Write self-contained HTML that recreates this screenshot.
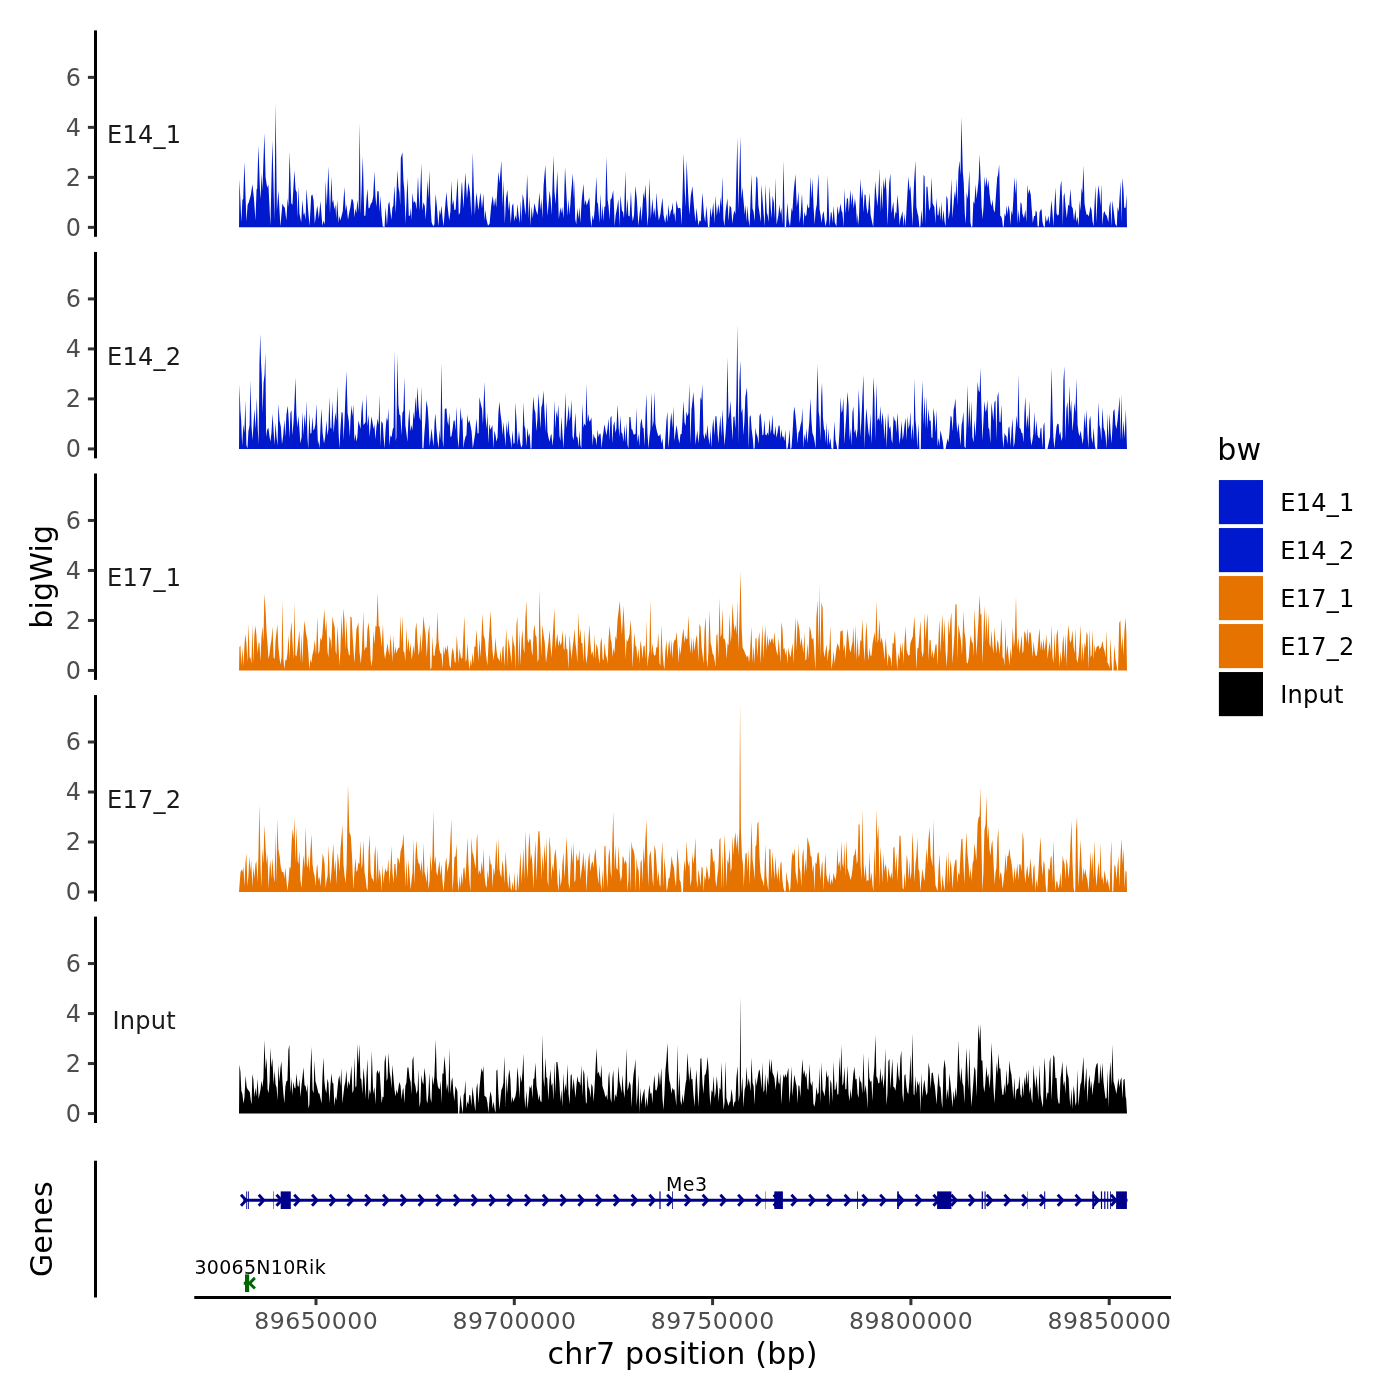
<!DOCTYPE html>
<html lang="en"><head><meta charset="utf-8"><title>chr7 bigWig tracks</title>
<style>html,body{margin:0;padding:0;background:#fff}body{width:1400px;height:1400px;overflow:hidden}svg{display:block}text{font-family:"DejaVu Sans", "Liberation Sans", sans-serif}</style></head><body>
<svg width="1400" height="1400" viewBox="0 0 1400 1400">
<rect width="1400" height="1400" fill="#fff"/>
<g id="panel-E14_1">
<path d="M239 227.36L239 227.36L239.44 179.01L241.36 222.21L242.4 199.81L243.2 199.01L244.4 161.81L246.4 221.41L247.6 205.01L248.8 202.21L250.8 195.01L252.4 184.21L254 199.01L255.44 220.61L256.56 189.41L257.2 188.61L258.4 145.41L260 191.01L260.56 199.01L261.6 173.01L262.4 191.01L264.4 133.01L265.6 177.41L267.2 187.81L268.4 184.61L268.96 195.81L270.4 225.81L272.4 140.61L274.4 220.61L275.6 103.01L276.88 211.01L278.4 190.21L280.4 226.61L282.4 203.41L284 207.01L284.8 207.41L286.4 220.61L287.6 198.21L288.4 207.01L289.6 151.81L291.2 203.01L292.4 205.01L294.4 170.21L295.6 189.41L296.8 192.61L297.6 218.21L298.4 186.21L299.44 213.41L301.2 222.21L302.4 199.81L303.6 215.01L304.4 212.61L305.6 219.81L306.4 188.61L308.4 213.41L309.6 225.81L311.2 195.81L312.4 194.61L313.6 200.61L314.8 223.81L317.2 205.41L318 211.01L318.8 219.01L320.4 201.01L322.4 225.81L323.6 220.61L324.8 224.61L325.6 180.61L326.8 206.21L328.4 166.61L330 213.41L331.44 176.61L332.4 203.01L333.2 199.81L334.4 209.41L335.44 204.61L336.24 219.01L337.2 199.81L338.64 223.01L339.44 215.81L340.4 220.61L341.6 215.81L342.8 211.01L344.4 187.01L345.6 211.01L346.4 204.21L348 219.81L349.2 212.61L350.4 207.01L351.6 199.01L352.8 199.81L353.6 203.81L354.4 217.41L355.44 208.61L356.4 213.41L357.36 199.81L358.64 211.81L359.68 123.01L360.72 214.21L362.8 156.61L364.24 215.81L365.36 215.81L366.4 200.61L367.44 188.61L368.56 208.61L369.6 207.81L370.8 203.81L372 202.21L373.2 196.61L374.4 171.01L375.44 195.81L376.4 207.01L377.36 191.01L378.64 191.41L379.6 212.61L380.4 195.81L381.6 215.01L382.8 226.61L384.56 227.01L385.6 207.01L386.96 225.41L388.24 204.61L389.36 201.41L390.4 211.81L391.44 219.81L392.4 207.81L393.36 205.41L394.4 185.41L395.76 213.41L397.36 169.41L398.4 187.01L399.44 192.61L400.24 205.41L400.8 158.21L402.4 152.21L403.44 180.61L404.4 191.01L405.6 223.81L407.44 177.41L408.8 215.81L410 215.81L410.8 207.81L411.6 220.61L412.4 192.61L413.6 203.01L414.64 201.01L415.6 203.01L416.56 209.41L418 176.21L419.44 211.01L421.36 163.41L422.4 211.01L423.44 202.21L424.8 206.21L425.6 219.81L426.4 207.01L427.44 179.81L428.4 199.01L429.36 170.21L430.4 203.81L431.6 222.21L433.2 226.21L434.4 224.61L435.6 193.81L436.8 205.41L438.4 226.21L439.6 209.41L440.4 215.01L441.44 205.41L442.64 219.01L443.6 226.21L444.8 211.01L446.4 191.81L447.6 206.21L449.2 220.61L450.4 211.81L451.44 180.61L452.4 205.41L453.36 199.81L454.4 210.21L455.6 209.41L457.6 177.81L458.8 215.01L460 212.61L461.6 184.61L462 181.41L463.44 208.61L465.36 172.61L466.96 199.01L468.4 182.21L470 192.61L471.44 216.61L472.8 152.61L473.84 191.01L474.8 215.01L476.4 192.21L478.4 210.21L480.4 192.21L482 208.61L483.44 193.41L484.56 220.61L485.44 209.81L486.4 219.01L488 225.81L489.6 223.81L491.2 205.41L492.8 195.81L494 207.01L495.2 197.41L496.24 207.81L498.4 171.81L499.6 183.01L501.36 160.61L502.64 207.01L503.44 179.81L504.8 223.81L506 198.21L507.44 189.41L508.56 211.01L509.36 200.61L510.8 223.81L512 206.21L513.2 203.01L514.4 221.41L515.44 215.01L516.4 219.81L517.36 203.81L518.4 213.41L519.6 223.01L520.8 200.61L521.6 223.01L522.64 193.81L523.76 199.81L524.8 209.41L525.6 215.01L527.2 174.21L528.56 219.01L529.36 196.61L530.64 225.81L531.6 206.21L532.8 218.21L534.4 203.01L536 210.21L537.6 215.01L539.44 192.21L540.56 210.21L541.36 198.21L542.4 218.21L543.6 185.41L545.36 165.01L546.64 199.01L547.6 215.81L549.6 190.61L550.64 199.01L551.6 215.01L553.44 155.41L554.4 191.01L555.6 203.81L557.36 171.01L558.8 219.01L560.4 207.01L561.2 213.41L562.16 207.01L563.6 218.21L565.04 167.01L566.4 193.41L567.6 215.81L568.56 199.01L569.6 215.01L570.96 195.01L572.8 173.41L574 199.01L574.24 179.01L575.2 219.01L576.24 224.61L577.36 207.81L578.4 219.01L579.44 207.01L580.4 223.01L581.6 201.41L583.44 183.81L584.56 205.41L585.36 199.81L586.8 205.41L588 201.41L589.36 197.41L590.4 217.41L591.44 227.01L592.56 215.01L593.6 220.61L594.64 210.21L596.4 176.61L597.2 202.21L598 203.81L599.44 223.01L600.4 193.41L601.6 220.61L602.64 204.61L603.44 221.41L604.4 207.01L605.36 206.21L606.4 156.61L607.6 199.81L608.56 206.21L609.6 219.81L610.4 199.81L611.6 198.21L613.2 190.21L614 207.01L614.64 226.21L615.6 215.81L617.2 207.01L618.4 199.01L619.6 226.61L620.4 195.01L622 211.01L622.96 211.81L624 218.21L625.36 171.01L626.4 215.81L627.44 198.21L628.4 215.81L629.6 216.61L630.96 191.01L632 215.01L632.8 221.41L634 215.01L635.44 185.81L636.8 199.01L638.4 225.81L639.44 215.01L640.56 205.41L641.6 221.41L643.44 192.21L644.4 199.01L645.36 184.21L646.4 203.01L647.44 226.21L648.4 215.01L649.36 178.21L650.8 219.01L652.4 198.21L653.6 215.01L654.4 207.81L655.44 218.21L656.4 192.21L657.6 209.41L658.8 220.61L660.4 214.21L662.4 197.41L663.6 215.01L665.2 223.01L666.4 213.41L667.44 222.21L668.4 204.61L669.6 217.41L670.8 211.01L671.76 209.41L672.56 202.21L673.6 215.01L674.4 212.61L675.44 222.21L676.4 200.21L678 208.61L679.2 207.81L680.56 208.61L681.6 225.41L682.4 199.01L683.6 153.41L684.8 191.01L685.6 207.01L686.64 160.61L688 191.01L689.36 215.01L690.8 195.81L692.4 186.21L694 207.01L695.44 222.21L696.4 207.81L698.4 225.41L699.6 220.61L700.8 221.41L702.4 192.61L704 215.01L705.2 222.21L706.4 205.81L708 227.01L709.36 227.01L710.4 207.01L711.6 217.41L713.36 202.21L714.4 223.81L715.6 195.41L716.8 215.81L718.4 203.81L719.44 214.21L720.56 197.01L721.36 207.01L722.4 176.21L723.44 219.01L724.4 226.21L725.6 211.01L727.44 198.21L728.56 221.41L729.6 205.41L731.2 207.81L732.4 223.81L733.36 215.01L734.4 210.21L735.44 214.21L737.36 137.41L738.4 210.21L740.4 136.21L741.36 199.01L742.4 187.01L743.44 199.81L744.8 215.01L745.6 204.61L746.64 222.21L747.44 205.41L748.4 219.01L749.6 226.61L751.44 174.21L752.56 208.61L753.6 211.81L754.64 221.41L756.4 176.21L757.36 178.21L758.4 205.41L759.6 213.41L760.8 222.21L761.36 184.21L762.8 203.01L763.76 215.01L764.8 226.21L765.36 184.21L766.8 212.61L767.76 215.81L768.56 222.21L769.6 186.21L770.64 207.01L771.6 218.21L772.56 195.81L773.84 202.21L774.64 219.01L775.44 177.41L776.56 224.61L778.4 215.01L779.44 204.61L780.4 214.21L781.36 207.81L782.4 224.61L783.44 160.61L784.8 227.01L786 227.01L787.44 202.21L788.56 219.81L790 226.61L791.6 207.81L792.4 211.81L793.6 192.61L795.44 174.21L796.8 207.01L797.84 199.01L798.4 191.01L799.6 223.01L800.56 215.01L802 193.41L803.44 226.21L804.4 211.81L805.6 216.61L806.4 215.01L807.44 203.41L808.4 208.61L809.36 207.01L810.4 176.21L811.44 199.01L812.4 178.61L813.6 207.01L814.64 224.61L815.6 211.01L816.8 204.61L818.4 173.41L819.6 209.41L820.56 215.01L821.6 223.01L822.64 214.21L823.6 211.01L824.8 221.41L825.6 226.61L826.8 219.01L827.76 175.01L829.04 215.01L829.6 226.61L830.8 212.21L831.6 212.61L832.56 223.01L833.6 205.81L834.8 222.21L836.4 226.61L837.36 205.81L838.8 215.01L840.4 203.41L841.6 211.01L842.4 212.61L843.6 227.01L844.4 188.61L845.6 213.41L846.96 197.81L848 199.01L848.8 212.61L850.4 189.81L851.6 205.41L852.4 192.61L853.6 208.61L854.96 198.21L856 207.01L857.04 223.81L857.6 213.41L858.64 225.41L860.4 178.61L861.6 199.01L862.4 187.01L863.6 212.61L864.56 194.61L865.6 195.01L866.4 206.21L867.6 214.21L868.4 208.61L869.36 192.61L870.64 215.01L871.6 219.81L873.2 227.01L874.16 207.01L875.2 181.01L876.4 195.81L877.36 206.21L878.4 193.41L879.44 168.21L880.4 212.61L881.36 184.21L882.4 210.21L883.44 179.01L884.4 189.41L885.44 176.61L886.4 191.01L887.6 225.41L889.2 183.01L890.4 173.41L891.44 213.41L893.36 201.41L894.4 219.81L895.6 211.41L896.4 213.41L897.36 194.61L898.64 208.61L899.6 225.41L900.4 219.01L901.6 215.01L902.4 211.01L903.6 226.21L904.56 213.41L905.6 226.61L906.64 207.01L908.4 176.61L909.6 191.01L910.4 185.41L911.6 207.01L912.4 226.61L914 183.81L915.44 160.61L916.4 207.01L917.6 213.41L918.4 216.61L919.44 227.01L920.4 226.21L921.36 209.41L922.64 224.61L923.6 175.01L924.56 176.61L925.6 224.61L926.4 187.01L927.44 186.61L929.2 211.01L930.4 207.01L931.44 177.01L932.56 203.01L933.6 205.41L934.4 207.01L935.44 223.81L936.4 197.81L937.6 215.01L938.4 215.81L939.44 205.81L940.4 220.61L941.36 201.41L942.4 222.21L943.44 209.41L944.56 221.41L945.6 226.61L946.4 195.81L947.6 199.01L948.56 219.81L950 209.41L951.44 178.61L952.4 218.21L954 198.21L954.96 191.01L955.6 199.01L956.4 177.81L957.36 205.41L958.4 171.81L959.44 160.61L960.56 175.01L961.36 117.01L962.8 171.01L963.76 183.01L964.8 213.41L965.84 223.81L966.64 192.21L967.76 199.01L969.36 170.21L970.4 222.21L971.44 227.36L972.4 226.21L973.36 201.41L974.4 203.81L975.6 184.21L976.56 199.01L977.6 189.41L978.64 179.81L979.6 154.21L980.8 183.01L981.6 207.01L982.64 219.01L983.6 205.41L984.56 176.21L985.6 187.01L986.4 176.61L987.44 187.81L988.4 179.81L989.6 194.21L990.8 203.81L991.6 206.21L992.4 199.41L993.6 209.41L994.8 212.61L996 194.21L997.2 177.41L998 175.01L999.2 164.61L1000.24 215.81L1001.2 216.61L1002 219.01L1002.96 227.01L1003.76 226.61L1004.56 213.41L1005.6 216.61L1006.64 205.41L1007.6 215.01L1008.4 205.01L1009.6 211.01L1010.4 225.41L1011.44 210.21L1012.4 215.01L1013.36 199.01L1014.4 177.01L1015.44 194.21L1016.4 177.81L1017.6 223.81L1018.4 209.41L1019.44 223.01L1020.56 202.21L1021.6 203.81L1022.4 213.41L1024 218.21L1025.36 209.41L1026.4 222.21L1027.44 184.21L1028.4 194.21L1029.36 189.01L1030.8 195.01L1031.6 207.01L1032.8 223.01L1034 216.21L1035.2 215.81L1035.76 210.21L1036.8 212.21L1037.6 226.21L1038.8 226.61L1039.6 212.61L1040.8 209.41L1041.6 209.41L1042.4 221.41L1043.6 226.21L1044.8 227.01L1045.6 215.01L1046.64 221.41L1047.44 220.61L1048.4 215.81L1049.6 224.61L1051.44 199.81L1052.56 213.41L1053.36 226.61L1055.44 187.41L1056.56 213.41L1057.84 215.81L1058.8 214.21L1060.4 186.21L1061.36 180.21L1062.4 207.01L1062.8 226.21L1063.6 196.61L1064.4 192.61L1065.6 207.01L1066.8 218.21L1068.24 204.61L1069.2 206.21L1070.4 188.61L1071.6 206.21L1072.8 208.61L1074 220.61L1075.44 209.01L1076.4 222.21L1077.36 216.61L1078.64 225.81L1079.6 200.61L1080.4 211.01L1081.6 187.41L1082.4 193.41L1083.44 165.41L1084.56 203.81L1085.6 210.21L1086.64 215.01L1087.6 214.21L1088.8 216.61L1090.4 206.61L1091.6 210.21L1092.56 221.41L1093.6 226.21L1094.4 207.01L1095.44 185.41L1096.4 223.01L1097.36 199.01L1098.4 185.01L1099.6 194.21L1100.4 206.21L1101.36 184.21L1102.4 225.41L1103.44 213.41L1104.4 211.01L1105.6 214.61L1106.8 215.81L1108.4 222.21L1109.36 207.01L1110.4 201.01L1111.44 226.61L1112.4 200.21L1113.6 210.21L1115.2 223.81L1116.8 226.61L1117.6 207.01L1118.64 211.81L1120.56 181.41L1121.36 222.21L1122.4 177.41L1123.44 189.41L1124.24 207.81L1125.6 207.81L1126.56 194.61L1127 227.36Z" fill="#0019CC"/>
<line x1="95.5" x2="95.5" y1="30.4" y2="236.8" stroke="#000" stroke-width="3"/>
<line x1="87.9" x2="94.5" y1="227.36" y2="227.36" stroke="#333" stroke-width="3"/>
<text x="80.9" y="235.71" font-size="23.9" fill="#4D4D4D" text-anchor="end">0</text>
<line x1="87.9" x2="94.5" y1="177.36" y2="177.36" stroke="#333" stroke-width="3"/>
<text x="80.9" y="185.71" font-size="23.9" fill="#4D4D4D" text-anchor="end">2</text>
<line x1="87.9" x2="94.5" y1="127.36" y2="127.36" stroke="#333" stroke-width="3"/>
<text x="80.9" y="135.71" font-size="23.9" fill="#4D4D4D" text-anchor="end">4</text>
<line x1="87.9" x2="94.5" y1="77.36" y2="77.36" stroke="#333" stroke-width="3"/>
<text x="80.9" y="85.71" font-size="23.9" fill="#4D4D4D" text-anchor="end">6</text>
<text x="144.2" y="143" font-size="24.1" fill="#1A1A1A" text-anchor="middle" letter-spacing="0.2">E14_1</text>
</g>
<g id="panel-E14_2">
<path d="M239 448.91L239 448.91L239.44 384.21L240.4 410.61L241.2 421.01L242.16 445.81L243.44 424.21L244.4 433.01L245.36 400.21L246.4 445.01L247.44 448.61L248.4 431.41L249.6 425.01L250.4 380.21L251.6 427.41L252.56 440.21L254.4 409.01L255.6 429.01L256.8 397.81L257.84 430.61L258.64 444.21L259.44 365.01L260.24 333.81L261.04 363.41L261.68 374.61L262.64 413.01L263.6 382.61L264.56 374.61L265.36 352.21L266.16 437.01L267.2 429.81L268.4 427.81L269.36 435.41L270.4 441.81L271.44 433.01L272.56 413.41L273.6 431.41L274.64 445.01L275.44 422.61L276.56 437.01L277.6 445.81L278.4 403.41L279.6 421.01L280.8 426.61L282 444.21L283.2 435.41L284.4 419.41L285.36 437.01L286.4 414.61L287.76 405.81L288.8 421.01L289.6 438.61L290.4 413.01L291.44 410.21L292.4 435.41L293.6 421.01L294.4 405.01L295.44 377.41L296.4 413.01L297.36 427.41L298.4 415.81L299.44 429.01L300.4 443.41L301.6 437.01L302.4 411.41L303.44 435.41L304.56 413.81L305.6 427.41L306.4 400.61L307.44 437.01L308.24 448.91L309.36 413.01L310.4 433.81L311.44 433.01L312.4 416.61L313.36 430.61L314.4 429.01L315.44 424.21L316.4 403.41L317.36 429.01L318 445.01L318.64 440.21L319.6 448.61L320.4 429.01L321.36 408.21L322.64 433.01L324 443.41L325.2 437.01L326.4 420.61L327.44 435.41L328.4 429.01L329.36 397.01L330.4 427.41L331.44 429.01L332.4 400.61L333.6 433.01L334.64 421.01L335.44 412.21L336.4 421.01L337.36 386.61L338.64 433.01L339.44 448.61L340.4 429.01L341.6 411.81L342.64 413.01L343.6 440.21L344.8 413.01L346.4 371.01L347.6 413.01L348.8 421.01L349.84 437.01L350.4 421.01L351.44 405.01L352.4 416.21L353.36 404.21L354.4 441.01L355.44 433.81L356.4 441.81L357.36 437.01L358.4 420.61L359.6 425.01L360.56 429.01L361.36 413.01L362.4 399.41L363.44 425.01L364.8 423.41L365.6 421.81L366.4 393.81L367.44 426.61L368.56 414.61L369.6 437.01L370.4 427.41L371.44 416.21L372.8 424.21L373.6 429.01L374.4 424.21L375.44 439.41L376.4 427.41L377.6 418.61L378.64 425.01L379.44 394.61L380.4 446.61L381.36 421.01L382.8 423.41L383.6 437.01L384.56 448.61L385.6 429.01L386.64 417.81L387.6 421.01L388.4 408.21L389.36 445.81L390.4 435.41L391.6 437.01L392.8 429.01L393.6 427.41L394.64 350.61L395.76 441.01L396.4 437.01L397.36 354.21L398.4 405.01L399.44 414.61L400.4 415.41L401.6 435.41L402.4 413.01L403.44 410.61L404.4 377.01L405.36 425.01L406.4 433.01L407.44 441.81L408.4 421.01L409.36 408.21L410.4 431.41L411.44 425.01L412.4 430.61L413.6 411.41L414.4 419.41L415.44 396.21L416.4 413.01L417.36 386.61L418.4 405.01L419.44 417.01L420.4 421.01L421.36 386.61L422.4 448.61L423.44 448.21L424.4 433.01L425.36 421.01L426.4 400.21L427.6 407.41L428.56 421.01L429.6 446.61L430.64 437.01L431.6 428.21L432.56 438.61L433.6 446.61L434.64 421.01L435.44 413.41L436.4 429.01L437.6 441.01L438.64 448.21L439.6 429.81L440.4 440.21L441.44 363.01L442.64 440.21L443.44 447.41L444.8 409.01L446.4 408.21L447.44 421.01L448.4 425.81L449.36 412.21L450.4 437.01L451.44 436.21L452.4 430.61L453.6 421.01L454.64 420.21L455.6 430.61L456.4 406.61L457.6 437.01L458.64 448.21L459.6 429.01L460.56 407.01L461.6 421.01L462.4 417.01L463.44 448.21L464.4 441.01L465.6 436.21L466.4 435.41L467.44 414.21L468.4 423.41L469.36 419.81L470.4 425.01L471.6 431.41L472.8 448.21L474 441.01L475.2 433.01L476.4 418.21L477.6 433.81L478.64 433.01L479.44 397.01L480.8 404.21L482 409.01L482.96 425.01L484.4 381.81L485.6 417.01L486.64 429.01L487.44 412.61L488.4 443.41L489.36 423.41L490.4 429.81L491.44 427.41L492.4 425.01L493.36 448.61L494.4 430.61L495.6 435.41L496.4 441.81L497.6 437.01L498.4 413.01L499.44 401.41L500.4 413.01L501.6 421.81L502.64 435.41L503.44 421.81L504.4 433.01L505.6 446.61L506.4 421.81L507.44 433.81L508.4 419.81L509.36 433.81L510.4 438.61L511.44 448.21L512.4 430.61L513.6 444.21L514.64 442.61L515.44 402.61L516.56 421.01L517.6 445.01L518.96 430.61L520 441.01L521.2 447.81L522.4 445.01L523.44 402.21L524.4 425.81L525.36 429.01L526.4 446.61L527.44 427.41L528.56 437.01L529.6 433.01L530.64 448.91L531.44 448.21L532.4 415.41L533.36 396.21L534.4 409.01L535.44 413.01L536.4 431.41L537.36 419.41L538.4 393.41L539.44 408.21L540.4 429.01L541.36 407.41L542.4 403.41L543.44 390.61L544.56 413.01L545.6 432.21L546.4 401.01L547.44 431.41L548.4 437.01L549.6 441.81L550.64 435.41L551.44 433.81L552.4 445.81L553.44 437.01L554.4 400.61L555.44 429.01L556.4 410.61L557.36 417.81L558.4 404.61L559.44 435.41L560.4 441.01L561.36 416.21L562.64 437.01L563.44 448.61L564.4 427.41L565.36 392.21L566.4 428.21L567.6 417.81L568.8 405.01L569.6 421.01L570.4 416.21L571.44 399.81L572.56 436.21L573.6 440.21L574.4 429.01L575.44 412.21L576.4 436.21L577.6 437.81L578.64 447.41L579.44 430.21L580.4 445.01L581.36 448.61L582.4 403.41L583.44 427.41L584.4 423.41L585.6 425.81L586.4 383.81L587.44 422.61L588.24 413.81L589.36 421.81L590.4 420.21L591.44 417.41L592.56 445.81L593.6 433.81L594.64 437.81L595.6 438.21L596.56 445.81L597.6 429.41L598.64 437.01L599.6 433.81L600.56 433.81L601.6 448.21L602.64 437.01L603.44 432.21L604.4 424.21L605.36 429.01L606.4 435.41L607.44 429.01L608.56 418.61L609.6 440.21L610.4 417.81L611.44 415.81L612.4 443.41L613.36 425.81L614.4 421.01L615.44 433.01L616.4 428.21L617.6 404.21L618.64 427.41L619.44 437.01L620.4 415.41L621.36 432.21L622.4 433.81L623.44 441.81L624.56 425.01L625.6 442.61L626.4 422.61L627.44 444.21L628.4 448.61L629.36 417.01L630.4 417.01L631.44 429.01L632.4 429.81L633.6 434.61L634.64 434.61L635.6 433.81L636.4 407.81L637.36 442.61L638.4 433.81L639.44 446.61L640.4 424.21L641.6 418.21L642.64 427.41L643.6 428.21L644.56 446.61L645.6 413.01L646.4 393.81L647.44 433.01L648.56 448.61L649.36 437.81L650.4 429.01L651.44 392.21L652.56 427.41L653.6 421.01L654.4 391.81L655.44 423.41L656.4 429.01L657.36 433.01L658.4 436.21L659.44 435.41L660.4 433.81L661.36 443.41L662.4 438.21L663.44 448.91L664.8 448.91L665.44 436.21L666.4 421.01L667.44 411.41L668.4 448.61L669.36 437.01L670.4 421.01L671.44 412.21L672.4 429.01L673.36 406.21L674.4 441.01L675.44 433.01L676.4 425.01L677.36 430.61L678.4 438.61L679.44 443.41L680.4 434.61L681.6 433.81L682.4 421.01L683.44 401.01L684.56 422.61L685.6 425.81L686.4 411.41L687.6 416.21L688.4 413.01L689.36 383.81L690.4 444.21L691.44 409.81L692.4 401.81L693.36 391.81L694.4 409.01L695.44 445.01L696.4 437.01L697.36 430.21L698.4 443.41L699.44 433.01L700.4 397.01L701.36 400.21L702.4 384.21L703.44 433.81L704.56 439.41L705.6 432.21L706.4 437.01L707.44 424.61L708.4 437.01L709.6 445.01L710.4 429.01L711.44 447.81L712.4 427.41L713.36 418.61L714.4 435.41L715.44 416.21L716.4 416.21L717.36 429.81L718.4 443.41L719.44 427.41L720.4 415.41L721.36 437.01L722.4 409.01L723.6 430.61L724.56 445.81L725.6 433.01L726.4 421.01L727.44 357.01L728.56 419.41L729.6 411.41L730.4 400.61L731.44 421.01L732.56 440.21L733.36 417.01L734.4 416.21L735.44 429.01L736.4 397.01L737.36 324.21L738.48 443.41L739.44 381.01L740.4 360.21L741.36 413.01L742.4 408.21L743.44 435.41L744.4 421.01L745.36 397.01L746.96 387.41L748 421.01L748.8 448.61L749.6 417.01L750.64 415.01L751.6 429.01L752.8 438.61L753.6 448.91L754.64 448.21L755.44 427.41L756.4 433.81L757.6 437.01L758.64 444.21L759.44 416.21L760.4 413.01L761.36 421.01L762.4 435.41L763.44 434.61L764.4 419.41L765.36 434.61L766.4 435.41L767.44 432.21L768.4 435.41L769.6 418.21L770.64 433.81L771.44 429.01L772.4 414.21L773.36 433.01L774.4 435.41L775.44 425.81L776.4 437.81L777.44 433.01L778.64 425.41L779.6 425.81L780.56 439.41L781.36 429.01L782.4 437.01L783.44 436.21L784.4 441.01L785.36 429.81L786.4 448.91L787.6 448.61L788.56 441.81L789.6 429.01L790.4 448.91L791.44 448.21L792.56 433.01L793.6 413.01L794.4 406.61L795.6 417.01L796.56 428.21L797.6 443.41L798.4 433.01L799.6 430.61L800.56 425.01L801.6 421.01L802.4 407.81L803.44 448.21L804.4 433.81L805.36 441.01L806.4 428.61L807.44 443.41L808.4 432.21L809.36 421.01L810.4 398.21L811.44 421.01L812.4 433.01L813.6 436.21L814.64 441.81L815.6 448.61L816.4 413.01L817.6 364.21L818.64 411.41L819.44 417.01L820.4 441.01L821.2 397.01L822 382.61L822.96 417.81L824 429.01L824.8 430.61L825.6 443.41L826.4 421.81L827.44 446.61L828.4 428.21L829.36 445.01L830.4 437.81L831.44 448.61L833.2 448.91L834.4 421.01L835.44 439.41L836.4 444.21L837.2 448.91L838.4 448.91L839.6 429.01L840.56 397.01L841.6 413.01L842.4 410.61L843.44 397.81L844.4 444.21L845.36 429.01L846.4 413.01L847.44 391.81L848.56 405.01L849.6 441.01L850.4 427.81L851.44 445.81L852.4 413.01L853.36 406.21L854.4 433.01L855.44 429.01L856.4 438.61L857.6 429.01L858.64 389.01L859.76 413.01L860.4 437.01L861.36 421.01L862.4 397.01L863.44 374.61L864.56 448.21L865.6 421.01L866.4 407.81L867.44 421.01L868.4 431.41L869.36 437.01L870.4 413.01L871.44 444.21L872.4 421.01L873.36 377.01L874.4 397.01L875.2 441.01L876.4 383.01L877.36 421.01L878.4 417.81L879.44 421.01L880.4 405.81L881.36 425.81L882.4 412.21L883.44 421.01L884.4 439.41L885.6 415.41L886.64 448.21L888 412.21L889.2 429.01L890.4 425.81L891.44 439.41L892.4 443.41L893.6 415.81L894.64 420.21L895.6 421.01L896.4 433.01L897.36 412.21L898.4 427.41L899.44 444.21L900.4 437.01L901.6 421.01L902.64 440.21L903.6 434.61L904.56 425.01L905.6 417.81L906.64 440.21L907.6 415.81L908.56 429.01L909.6 424.21L910.4 411.41L911.44 440.21L912.56 423.41L913.6 441.01L914.4 378.61L915.44 419.41L916.4 429.01L917.36 448.61L918.4 423.01L919.44 448.91L920.8 448.91L921.36 413.01L922.4 380.21L923.44 425.01L924.56 395.41L925.6 429.01L926.4 396.21L927.44 429.01L928.4 409.01L929.6 421.01L930.64 420.21L931.44 437.01L932.4 438.61L933.44 407.81L934.64 417.01L935.6 433.01L936.56 409.41L937.6 446.61L938.64 437.81L939.44 446.61L940.4 430.21L941.6 435.41L942.8 441.81L943.6 448.91L945.6 448.91L946.4 444.21L947.6 438.61L948.4 442.61L949.36 433.81L950.64 415.41L951.6 417.01L952.8 431.41L953.6 409.81L954.4 406.61L955.44 398.21L956.4 421.01L957.36 433.01L958.4 422.61L959.44 433.81L960.56 445.81L961.6 425.01L962.4 421.01L963.44 411.41L964.4 446.61L965.6 448.21L966.64 421.01L967.44 384.61L968.56 428.21L969.36 401.01L970.4 429.01L971.44 401.01L972.4 437.01L973.6 442.61L974.4 419.81L975.6 437.01L976.56 413.01L977.6 381.81L978.64 390.61L979.6 392.21L980.4 367.81L981.36 405.01L982.4 441.01L983.44 421.01L984.4 401.01L985.6 412.21L986.4 409.81L987.44 399.81L988.4 427.41L989.36 429.81L990.4 443.41L991.44 402.61L992.4 411.41L993.36 421.01L994.4 402.61L995.44 400.21L996.4 440.21L997.36 397.01L998.4 391.81L999.44 421.81L1000.4 422.61L1001.44 404.61L1002.4 435.41L1003.44 448.21L1004.56 433.01L1005.6 435.41L1006.4 436.21L1007.44 444.21L1008.4 428.21L1009.36 426.21L1010.64 446.61L1011.6 429.01L1012.56 418.21L1013.6 447.41L1014.64 442.61L1015.6 429.01L1016.56 415.41L1017.6 427.41L1018.4 374.21L1019.44 427.41L1020.56 429.01L1021.6 433.01L1022.4 433.01L1023.6 442.61L1024.4 413.01L1025.36 396.61L1026.4 429.01L1027.44 414.61L1028.4 429.01L1029.36 400.61L1030.4 437.01L1031.44 445.81L1032.4 440.21L1033.36 433.81L1034.4 411.41L1035.44 435.41L1036.4 420.21L1037.6 435.41L1038.64 437.81L1039.6 438.61L1040.56 428.21L1041.36 427.81L1042.4 448.61L1043.44 425.81L1044.4 422.21L1045.2 448.91L1047.44 448.91L1048.8 442.61L1050 437.01L1050.8 405.01L1051.6 367.41L1052.56 413.01L1053.36 437.01L1054.4 448.61L1055.44 437.81L1056.56 426.61L1057.6 423.41L1058.64 424.21L1059.44 435.41L1060.4 431.41L1061.36 441.01L1062.4 437.01L1063.44 381.01L1064.4 366.21L1065.36 440.21L1066.4 409.01L1067.44 401.81L1068.4 427.41L1069.36 385.41L1070.4 413.01L1071.2 399.81L1072.4 431.41L1073.36 421.01L1074.4 402.21L1075.44 413.01L1076.4 378.61L1077.6 425.01L1078.64 433.01L1079.6 436.21L1080.56 430.61L1081.6 437.01L1082.64 444.21L1083.44 437.81L1084.4 412.61L1085.36 429.01L1086.4 409.41L1087.44 433.01L1088.4 448.21L1089.36 420.21L1090.4 415.81L1091.44 437.01L1092.56 443.41L1093.6 427.81L1094.8 445.01L1095.6 448.91L1097.2 448.91L1098.4 401.81L1099.44 425.01L1100.4 429.01L1101.36 441.01L1102.4 407.41L1103.6 427.41L1104.8 431.41L1105.6 437.01L1106.64 448.21L1107.44 413.81L1108.4 441.01L1109.6 413.41L1110.64 433.01L1111.6 443.41L1113.2 411.41L1114.4 409.01L1115.44 424.21L1116.4 429.01L1117.6 419.81L1118.64 409.01L1119.6 396.21L1120.56 441.01L1121.44 393.81L1122.4 440.21L1123.44 420.21L1124.56 438.61L1125.84 409.01L1127 448.91Z" fill="#0019CC"/>
<line x1="95.5" x2="95.5" y1="251.95" y2="458.35" stroke="#000" stroke-width="3"/>
<line x1="87.9" x2="94.5" y1="448.91" y2="448.91" stroke="#333" stroke-width="3"/>
<text x="80.9" y="457.26" font-size="23.9" fill="#4D4D4D" text-anchor="end">0</text>
<line x1="87.9" x2="94.5" y1="398.91" y2="398.91" stroke="#333" stroke-width="3"/>
<text x="80.9" y="407.26" font-size="23.9" fill="#4D4D4D" text-anchor="end">2</text>
<line x1="87.9" x2="94.5" y1="348.91" y2="348.91" stroke="#333" stroke-width="3"/>
<text x="80.9" y="357.26" font-size="23.9" fill="#4D4D4D" text-anchor="end">4</text>
<line x1="87.9" x2="94.5" y1="298.91" y2="298.91" stroke="#333" stroke-width="3"/>
<text x="80.9" y="307.26" font-size="23.9" fill="#4D4D4D" text-anchor="end">6</text>
<text x="144.2" y="364.55" font-size="24.1" fill="#1A1A1A" text-anchor="middle" letter-spacing="0.2">E14_2</text>
</g>
<g id="panel-E17_1">
<path d="M239 670.46L239 670.46L239.44 647.01L240.4 645.41L241.36 665.41L242.4 647.81L243.44 666.21L244.4 646.21L245.36 634.21L246.4 643.01L247.44 662.21L248.56 623.81L249.6 657.41L250.64 658.21L251.44 663.81L252.4 624.21L253.36 663.01L254.4 635.01L255.44 625.41L256.4 635.01L257.6 653.41L258.64 642.21L259.44 643.01L260.4 661.41L261.36 639.81L262.4 626.21L263.44 641.41L264.4 593.81L265.6 611.01L266.64 633.41L267.6 644.61L268.4 659.01L269.36 655.01L270.4 646.21L271.44 639.81L272.56 626.21L273.6 657.41L274.64 659.01L275.6 639.81L277.36 624.21L278.4 647.01L279.44 657.41L280.4 664.61L281.6 657.41L282.4 600.21L283.44 659.01L284.4 669.41L285.36 659.81L286.4 660.61L287.44 653.41L288.56 635.01L289.6 659.01L290.4 633.41L291.44 621.41L292.56 643.01L293.6 659.81L294.4 601.81L295.44 655.01L296.4 656.61L297.36 649.41L298.4 639.81L299.44 630.21L300.4 662.21L301.36 633.81L302.4 663.81L303.44 635.01L304.56 620.61L306 633.41L307.2 639.01L308.24 651.01L309.36 669.41L310.4 659.01L311.44 663.01L312.4 655.01L313.6 650.21L314.8 639.81L316 655.01L317.36 616.61L318.4 654.21L319.44 651.01L320.4 637.41L321.36 640.61L322.4 635.01L323.44 620.61L324.4 609.01L325.36 631.81L326.4 619.81L327.44 651.01L328.4 657.41L329.44 635.81L330.64 640.21L331.44 649.41L332.4 616.21L333.6 623.01L334.64 627.01L335.6 651.01L336.4 655.01L337.36 626.61L338.4 643.01L339.44 665.41L340.4 651.01L341.36 615.01L342.4 639.81L343.44 608.21L344.4 619.01L345.6 649.41L346.4 619.01L347.6 647.01L348.8 654.21L349.84 655.81L350.4 616.61L351.6 617.41L352.8 639.01L354.4 663.01L355.44 647.01L356.4 629.41L357.36 626.21L358.4 622.21L359.44 651.01L360.8 663.81L361.84 651.01L363.44 611.41L364.4 651.01L365.6 647.01L366.64 647.81L367.44 629.41L368.56 622.21L369.6 635.01L370.64 659.01L371.44 666.21L372.4 659.01L373.36 631.01L374.4 644.61L375.6 625.41L376.56 627.01L377.6 592.21L378.64 625.41L379.6 627.01L380.56 635.01L381.6 647.01L382.96 624.21L384 651.01L385.04 659.01L386.4 651.01L387.44 643.01L388.4 649.41L389.36 655.81L390.4 635.01L391.44 647.01L392.4 662.21L393.36 635.41L394.4 655.01L395.44 646.21L396.4 653.41L397.36 650.21L398.4 647.81L399.44 647.81L400.4 615.81L401.36 643.01L402.4 615.81L403.44 651.01L404.4 652.61L405.36 661.41L406.4 627.01L407.44 651.01L408.4 637.41L409.6 652.61L410.64 643.01L411.6 659.81L412.4 655.01L413.36 645.41L414.4 653.41L415.44 629.41L416.4 622.21L417.6 643.01L418.64 655.81L419.44 651.01L420.4 632.61L421.36 652.61L422.4 637.41L423.44 615.81L424.56 627.01L425.6 635.01L426.8 657.41L428 635.01L429.36 624.21L430.4 669.41L431.44 667.81L432.4 636.21L433.36 655.01L434.4 656.61L435.44 647.81L436.4 643.01L437.44 611.41L438.4 639.81L439.44 649.41L440.4 653.41L441.44 653.41L442.64 668.61L443.44 646.21L444.4 655.01L445.36 646.21L446.4 651.01L447.44 644.61L448.56 655.01L449.6 665.41L450.64 668.61L451.6 654.21L452.56 647.81L453.6 651.81L454.64 661.41L455.6 663.01L456.8 635.01L457.84 651.01L458.64 663.81L459.6 647.81L460.8 657.41L461.84 659.01L462.4 657.41L463.44 635.01L464.4 615.81L465.6 662.21L466.64 659.01L467.44 642.61L468.4 659.01L469.6 669.81L470.64 659.01L471.44 666.21L472.4 652.61L473.6 663.81L474.4 646.21L475.44 647.01L476.4 629.41L477.36 643.01L478.4 661.41L479.44 638.21L480.56 657.41L481.6 635.01L482.4 613.41L483.6 635.01L484.8 639.01L486 655.01L487.44 665.41L488.56 643.01L489.6 627.01L490.64 610.61L491.6 635.01L492.56 651.01L493.6 660.61L494.64 651.01L495.44 637.41L496.56 651.01L497.6 657.41L498.64 659.01L499.6 661.41L500.56 649.41L501.6 663.81L502.4 647.81L503.44 645.81L504.4 666.21L505.6 643.01L506.4 628.61L507.44 666.21L508.4 637.41L509.6 647.01L510.64 655.01L511.6 663.81L512.56 634.21L513.6 643.01L514.64 647.01L515.44 669.41L516.4 625.41L517.36 616.21L518.4 666.21L519.44 629.41L520.4 665.41L521.6 638.21L522.4 629.81L523.44 647.81L524.4 653.41L525.36 619.01L526.4 600.61L527.44 639.01L528.56 643.01L529.6 639.01L530.64 639.41L531.6 651.01L532.56 655.81L533.6 631.01L534.4 624.21L535.44 635.01L536.56 637.41L537.6 662.21L538.64 659.01L539.44 589.41L540.56 635.01L541.36 656.61L542.4 624.61L543.6 635.01L544.8 643.01L546 663.01L547.44 651.01L548.4 643.01L549.6 629.41L550.64 647.01L551.6 657.41L552.8 635.01L554.4 608.21L555.44 649.41L556.4 639.81L557.36 633.81L558.4 647.01L559.44 639.81L560.56 645.41L561.6 642.21L562.64 630.21L563.6 647.81L564.4 651.01L565.36 632.21L566.4 648.61L567.44 649.41L568.4 669.41L569.6 634.21L570.64 649.41L571.6 659.01L572.56 647.81L573.6 639.81L574.4 628.61L575.44 643.01L576.4 651.01L577.36 663.01L578.4 612.61L579.44 639.01L580.4 628.61L581.36 643.01L582.4 643.01L583.44 662.21L584.56 629.41L585.6 655.01L586.4 663.81L587.44 655.01L588.4 641.41L589.36 624.21L590.4 643.01L591.44 655.01L592.4 651.01L593.6 658.21L594.4 633.41L595.44 659.01L596.4 643.81L597.6 647.81L598.64 657.41L599.6 663.81L600.56 642.21L601.6 637.41L602.64 659.01L603.6 660.61L604.56 642.21L605.6 654.21L606.8 658.21L607.6 663.81L608.56 639.01L609.6 625.41L610.64 639.01L611.6 643.01L612.56 657.41L613.36 647.81L614.4 653.41L615.44 635.81L616.4 639.81L617.6 619.01L618.64 611.01L619.76 601.01L620.8 617.41L621.84 635.01L622.64 622.21L623.44 605.41L624.56 629.41L625.6 659.01L626.64 639.01L627.6 641.81L628.56 638.21L629.6 634.21L630.4 619.41L631.44 632.61L632.56 667.81L633.36 651.01L634.4 632.61L635.44 645.41L636.4 647.01L637.36 659.01L638.4 647.81L639.44 663.81L640.4 640.21L641.6 647.81L642.64 659.01L643.44 646.21L644.56 645.41L645.6 659.01L646.4 619.81L647.44 667.01L648.4 657.41L649.36 651.01L650.4 599.81L651.44 655.01L652.4 643.01L653.36 652.61L654.4 655.81L655.44 655.01L656.4 647.01L657.36 647.81L658.4 632.61L659.44 663.01L660.4 665.41L661.36 624.21L662.4 651.01L663.44 663.01L664.4 669.81L665.36 651.01L666.4 639.81L667.44 659.01L668.4 646.21L669.36 639.81L670.4 655.81L671.44 639.81L672.4 659.01L673.36 643.81L674.64 639.81L675.6 639.81L676.56 631.81L677.6 645.41L678.64 663.01L679.6 645.41L680.56 655.01L681.6 643.01L682.64 633.41L683.44 628.21L684.56 643.01L685.6 635.01L686.4 639.81L687.44 638.21L688.4 615.41L689.6 643.01L690.64 653.41L691.44 636.61L692.4 654.21L693.36 637.41L694.4 651.01L695.44 643.01L696.4 635.01L697.36 639.81L698.4 661.41L699.44 623.81L700.56 627.01L701.6 647.01L702.64 655.81L703.6 663.81L704.56 630.21L705.6 616.61L706.64 659.01L707.44 667.81L708.4 651.01L709.44 610.21L710.64 643.01L711.6 647.01L712.56 653.41L713.6 655.01L714.64 660.61L715.44 667.01L716.4 635.81L717.36 633.41L718.4 659.01L719.44 597.81L720.56 637.41L721.6 633.41L722.4 608.21L723.44 639.01L724.4 638.21L725.6 643.01L726.64 659.01L727.6 643.01L728.56 645.41L729.6 613.41L730.64 643.01L731.44 635.01L732.56 602.61L733.6 622.21L734.64 631.01L735.6 624.21L736.56 635.01L737.36 599.81L738.4 651.01L739.44 619.01L740.56 571.01L741.6 627.01L742.64 647.81L743.6 649.41L744.8 652.61L745.84 655.01L746.96 657.41L748 655.01L749.04 662.21L750 653.41L751.44 626.21L752.56 663.01L753.6 645.41L754.64 663.81L755.44 639.01L756.4 637.41L757.36 657.41L758.4 639.81L759.44 631.81L760.56 663.81L761.6 643.01L762.4 624.21L763.44 659.01L764.4 638.21L765.36 625.81L766.4 651.01L767.44 634.21L768.4 647.01L769.36 638.21L770.4 643.01L771.44 639.01L772.4 638.21L773.36 644.61L774.4 631.81L775.44 644.61L776.4 651.01L777.6 655.81L778.64 637.41L779.6 651.01L780.56 663.01L781.36 622.21L782.4 628.61L783.44 649.41L784.4 647.81L785.36 655.01L786.4 649.41L787.44 663.81L788.4 647.81L789.6 654.21L790.64 657.41L791.6 649.41L792.56 643.01L793.6 663.81L794.64 635.01L795.6 617.01L796.56 651.01L797.6 619.01L798.4 624.21L799.44 630.21L800.4 646.21L801.36 637.41L802.4 645.41L803.44 653.41L804.4 631.81L805.36 660.61L806.4 659.01L807.44 643.01L808.4 659.01L809.6 626.21L810.8 631.01L812 639.81L813.36 637.41L814.4 653.41L815.44 669.81L816.4 617.41L817.6 600.61L818.64 651.01L819.44 584.21L820.4 659.01L821.44 602.21L822.64 607.81L823.6 651.01L824.56 657.41L825.6 650.21L826.64 644.61L827.6 661.41L828.56 651.01L829.36 649.41L830.4 625.01L831.44 669.41L832.56 661.41L833.6 651.01L834.64 663.81L835.6 655.01L836.56 647.81L837.6 643.01L838.64 646.21L839.6 651.01L840.4 631.41L841.6 631.01L842.64 630.21L843.6 651.01L844.56 643.81L845.6 659.01L846.64 639.01L847.44 628.61L848.56 639.01L849.6 649.41L850.64 652.61L851.6 646.21L852.56 642.21L853.36 626.61L854.4 655.81L855.44 624.61L856.56 660.61L857.6 636.61L858.64 657.41L859.44 654.21L860.4 639.81L861.36 641.41L862.4 619.01L863.44 643.01L864.56 661.41L865.6 635.81L866.64 621.41L867.6 651.01L868.56 660.61L869.6 647.81L870.64 656.61L871.6 655.01L872.56 643.81L873.6 638.21L874.64 631.81L875.44 643.01L876.4 600.21L877.6 643.01L878.4 639.01L879.44 619.01L880.56 643.01L881.6 637.41L882.64 643.01L883.6 649.41L884.56 660.61L885.6 637.41L886.64 651.01L887.6 666.21L888.56 653.41L889.6 656.61L890.64 658.21L891.6 667.01L892.56 643.01L893.6 643.81L894.96 630.21L896 651.01L897.2 669.81L898.4 652.61L899.44 660.61L900.4 642.21L901.36 653.41L902.4 641.81L903.44 663.81L904.4 643.01L905.6 626.61L906.64 649.41L907.6 653.41L908.56 655.81L909.6 655.01L910.4 643.01L911.6 639.81L912.8 636.61L914.4 616.21L915.44 639.81L916.4 669.81L917.36 648.61L918.4 647.81L919.44 635.01L920.4 620.21L921.6 651.01L922.64 657.41L923.6 651.01L924.4 612.61L925.6 639.81L926.64 623.01L927.6 613.81L928.56 660.61L929.6 639.81L930.64 640.21L931.6 657.41L932.56 649.41L933.6 659.01L934.64 651.01L935.6 644.61L936.56 644.61L937.6 665.41L938.64 635.01L939.44 619.81L940.56 653.41L941.36 633.41L942.4 613.81L943.44 643.01L944.4 619.01L945.6 651.01L946.64 667.01L947.6 651.01L948.56 619.01L949.6 635.01L950.4 620.61L951.44 612.21L952.4 663.81L953.36 651.01L954.4 635.01L955.44 604.61L956.56 604.21L957.6 659.81L958.4 624.21L959.6 631.81L960.8 639.81L962 655.01L963.44 611.01L964.4 631.81L965.6 639.81L966.64 662.21L967.6 663.81L968.8 657.41L969.84 643.01L970.64 635.01L971.76 641.41L972.8 643.01L973.6 656.61L974.4 608.61L975.44 629.41L976.4 655.81L977.6 635.01L978.64 617.41L979.44 595.01L980.56 615.01L981.36 613.41L982.4 663.81L983.44 635.01L984.4 605.01L985.6 641.41L986.4 610.61L987.44 641.41L988.4 613.01L989.36 643.01L990.4 647.81L991.44 630.21L992.56 647.01L993.6 653.41L994.4 626.61L995.44 641.41L996.4 653.41L997.36 639.81L998.4 643.01L999.44 654.21L1000.4 643.01L1001.44 617.81L1002.64 657.41L1003.6 658.21L1004.56 665.41L1005.36 626.21L1006.4 655.81L1007.44 644.61L1008.56 657.41L1009.6 665.41L1010.4 647.81L1011.44 659.01L1012.8 627.01L1013.84 647.81L1014.8 639.01L1016 596.61L1017.2 649.41L1018.4 636.61L1019.6 653.41L1020.8 643.01L1021.84 635.01L1022.4 653.41L1023.44 651.01L1024.4 631.01L1025.6 633.41L1026.4 643.01L1027.44 627.41L1028.4 645.41L1029.36 632.61L1030.64 632.61L1031.6 643.01L1032.56 657.41L1033.6 641.41L1034.64 651.01L1035.6 655.81L1036.8 655.81L1037.84 647.01L1038.8 635.01L1039.6 628.21L1040.56 651.01L1041.36 639.81L1042.4 651.01L1043.44 638.21L1044.56 651.01L1045.6 642.21L1046.4 634.61L1047.6 659.01L1048.56 649.41L1049.6 641.81L1050.64 652.61L1051.44 624.61L1052.56 657.41L1053.6 663.01L1054.4 632.21L1055.44 659.01L1056.56 635.01L1057.6 629.01L1058.64 651.01L1059.6 667.01L1060.56 651.01L1061.6 663.01L1062.64 643.01L1063.44 635.01L1064.56 659.01L1065.6 633.81L1066.64 667.01L1067.44 638.21L1068.56 624.61L1069.6 639.81L1070.64 643.01L1071.44 639.81L1072.4 630.21L1073.6 647.01L1074.64 653.41L1075.44 627.81L1076.56 659.01L1077.6 663.01L1078.64 655.01L1079.6 643.01L1080.56 624.61L1081.6 662.21L1082.64 642.21L1083.6 661.41L1084.56 642.21L1085.6 647.81L1086.64 631.81L1087.6 635.01L1088.56 669.41L1089.6 628.61L1090.64 657.41L1091.6 655.01L1092.56 629.81L1093.6 659.81L1094.64 643.81L1095.44 652.61L1096.56 647.01L1097.6 646.21L1098.64 645.41L1099.6 649.41L1100.56 647.81L1101.36 646.21L1102.4 640.61L1103.44 647.01L1104.56 651.01L1105.6 657.41L1106.4 629.81L1107.44 662.21L1108.56 664.61L1109.6 668.61L1110.4 637.41L1111.44 659.01L1112.24 670.46L1113.36 670.46L1114.4 644.61L1115.44 659.01L1116.4 663.81L1117.36 670.46L1118 670.46L1119.2 623.01L1120.4 620.61L1121.36 651.01L1122.4 635.01L1123.44 655.81L1124.4 631.81L1125.6 617.41L1126.4 635.01L1127 670.46Z" fill="#E67300"/>
<line x1="95.5" x2="95.5" y1="473.5" y2="679.9" stroke="#000" stroke-width="3"/>
<line x1="87.9" x2="94.5" y1="670.46" y2="670.46" stroke="#333" stroke-width="3"/>
<text x="80.9" y="678.81" font-size="23.9" fill="#4D4D4D" text-anchor="end">0</text>
<line x1="87.9" x2="94.5" y1="620.46" y2="620.46" stroke="#333" stroke-width="3"/>
<text x="80.9" y="628.81" font-size="23.9" fill="#4D4D4D" text-anchor="end">2</text>
<line x1="87.9" x2="94.5" y1="570.46" y2="570.46" stroke="#333" stroke-width="3"/>
<text x="80.9" y="578.81" font-size="23.9" fill="#4D4D4D" text-anchor="end">4</text>
<line x1="87.9" x2="94.5" y1="520.46" y2="520.46" stroke="#333" stroke-width="3"/>
<text x="80.9" y="528.81" font-size="23.9" fill="#4D4D4D" text-anchor="end">6</text>
<text x="144.2" y="586.1" font-size="24.1" fill="#1A1A1A" text-anchor="middle" letter-spacing="0.2">E17_1</text>
</g>
<g id="panel-E17_2">
<path d="M239 892.01L239 892.01L239.6 884.01L240.56 872.01L241.6 869.61L242.4 872.01L243.44 866.81L244.4 886.41L245.36 864.01L246.4 853.61L247.44 886.41L248.4 876.01L249.36 856.01L250.4 872.01L251.2 860.01L252.4 887.21L253.36 866.41L254.4 878.41L255.44 864.01L256.4 861.21L257.6 882.41L258.4 856.01L259.44 804.01L260.56 868.01L261.36 887.21L262.4 848.01L263.44 864.01L264.4 824.81L265.6 848.01L266.64 864.01L267.44 853.61L268.56 888.81L269.6 868.01L270.4 860.01L271.44 878.41L272.4 857.61L273.6 876.01L274.64 882.41L275.44 832.01L276.4 882.41L277.36 818.81L278.4 849.61L279.6 856.01L280.8 867.21L282 872.01L283.44 872.01L284.4 878.41L285.36 867.21L286.4 880.01L287.44 890.81L288.56 880.01L289.6 866.41L290.64 868.81L291.76 840.01L292.8 828.81L293.6 840.01L294.4 817.61L295.44 862.41L296.4 826.41L297.6 860.81L298.4 864.01L299.44 850.41L300.4 880.01L301.6 888.01L302.4 872.01L303.44 854.41L304.56 868.01L305.6 826.41L306.8 864.01L307.6 868.01L308.4 854.41L309.36 872.01L310.4 852.01L311.44 834.01L312.56 864.01L313.6 872.01L314.64 876.01L315.6 886.41L316.56 868.01L317.36 864.01L318.4 880.01L319.44 876.81L320.4 886.41L321.6 872.01L322.64 853.61L323.6 857.61L324.56 864.01L325.6 888.01L326.64 880.01L327.6 876.01L328.56 845.21L329.6 872.01L330.4 884.01L331.44 872.01L332.4 856.01L333.36 843.61L334.4 872.01L335.44 859.21L336.56 884.81L337.6 852.81L338.64 860.81L339.6 872.01L340.56 848.01L341.6 836.01L342.4 824.41L343.44 864.01L344.4 874.41L345.6 883.21L346.64 864.01L348 784.81L349.36 832.01L350.8 836.01L352 856.01L353.36 889.61L354.4 872.01L355.44 857.61L356.4 872.01L357.36 870.41L358.4 862.41L359.44 864.01L360.4 840.81L361.6 868.81L362.4 864.01L363.44 840.01L364.56 872.01L365.6 878.41L366.64 888.01L367.6 890.41L368.56 852.01L369.6 834.81L370.64 872.01L371.6 877.61L372.8 879.21L373.6 882.41L374.4 856.01L375.44 845.61L376.56 883.21L377.6 848.01L378.64 880.01L379.6 868.81L380.56 876.01L381.6 891.21L382.4 864.01L383.44 883.21L384.4 874.41L385.36 868.01L386.4 872.01L387.44 870.41L388.4 858.41L389.36 884.01L390.4 868.01L391.44 846.01L392.4 872.01L393.6 883.21L394.4 864.01L395.44 864.01L396.4 878.41L397.6 857.61L398.64 859.21L399.6 864.01L400.56 851.21L401.6 848.01L402.4 844.81L403.44 833.61L404.4 856.01L405.36 887.21L406.4 859.21L407.44 886.41L408.4 859.21L409.6 876.01L410.64 889.61L411.6 880.01L412.56 872.01L413.36 838.41L414.4 884.01L415.44 856.01L416.4 840.01L417.6 858.41L418.64 863.21L419.6 864.01L420.56 872.01L421.6 860.01L422.64 876.81L423.44 842.81L424.56 872.01L425.6 876.01L426.64 883.21L427.44 864.81L428.56 889.61L429.6 880.01L430.4 852.81L431.44 872.01L432.4 856.01L433.36 810.81L434.4 864.01L435.44 856.01L436.4 872.01L437.36 876.01L438.4 868.01L439.44 860.81L440.4 876.01L441.44 864.01L442.4 880.01L443.44 891.61L444.4 880.01L445.36 863.21L446.4 857.61L447.44 872.01L448.4 866.41L449.36 861.21L450.4 840.01L451.44 818.81L452.4 891.21L453.36 880.01L454.4 857.61L455.6 856.01L456.56 844.01L457.6 880.01L458.64 891.61L459.6 876.01L460.56 888.01L461.6 872.01L462.4 884.81L463.44 868.81L464.4 867.21L465.36 880.01L466.4 862.41L467.44 837.21L468.4 864.01L469.36 880.01L470.4 891.61L471.44 837.21L472.4 852.01L473.6 856.01L474.8 864.01L475.76 868.81L476.56 840.01L477.36 834.01L478.4 874.41L479.44 870.01L480.56 874.41L481.6 861.61L482.64 872.01L483.44 848.41L484.56 876.01L485.6 884.81L486.64 888.01L487.6 870.01L488.56 880.01L489.6 854.41L490.64 864.01L491.6 864.81L492.56 888.01L493.6 867.21L494.64 875.21L495.6 856.01L496.4 840.01L497.6 872.01L498.4 837.61L499.44 868.81L500.4 874.41L501.36 877.61L502.4 860.01L503.44 868.01L504.4 884.01L505.6 851.21L506.64 868.81L507.44 880.01L508.4 888.81L509.6 872.01L510.64 888.01L511.6 890.81L512.56 881.61L513.6 890.81L514.4 872.01L515.44 889.61L516.4 891.21L517.36 872.01L518.4 890.41L519.44 872.01L520.4 851.21L521.6 883.21L522.64 864.01L523.44 848.01L524.4 880.01L525.6 830.01L526.64 864.01L527.6 878.41L528.56 848.01L529.6 832.01L530.64 860.81L531.44 853.61L532.4 864.01L533.36 888.81L534.4 860.81L535.44 840.01L536.56 881.61L537.6 848.01L538.4 831.21L539.44 831.21L540.4 848.01L541.36 880.01L542.4 853.61L543.44 872.01L544.4 844.01L545.6 864.01L546.4 837.21L547.44 880.01L548.4 886.41L549.36 836.01L550.4 848.01L551.44 880.01L552.4 864.01L553.36 872.01L554.4 856.01L555.44 848.41L556.4 859.21L557.6 883.21L558.64 891.21L559.44 867.21L560.56 886.41L561.6 880.01L562.4 864.01L563.44 852.01L564.4 878.41L565.36 864.01L566.4 836.81L567.44 856.01L568.56 883.21L569.6 889.61L570.64 864.01L571.6 844.81L572.56 864.01L573.6 841.61L574.4 882.41L575.44 880.01L576.4 852.81L577.6 860.81L578.4 860.01L579.44 849.21L580.4 880.01L581.36 872.01L582.4 864.01L583.44 852.01L584.4 872.01L585.36 857.21L586.4 891.61L587.44 872.01L588.4 859.21L589.36 852.01L590.4 872.01L591.44 864.01L592.56 860.81L593.6 868.01L594.4 856.01L595.44 848.01L596.56 864.01L597.6 876.01L598.64 884.01L599.44 864.01L600.56 883.21L601.6 890.81L602.4 869.61L603.44 889.61L604.4 846.41L605.36 845.61L606.4 872.01L607.44 888.01L608.56 856.01L609.6 848.01L610.64 872.01L611.44 878.41L612.4 840.01L613.36 811.61L614.4 872.01L615.2 845.21L616.4 868.01L617.6 870.41L618.64 845.61L619.6 872.01L620.8 881.61L621.84 876.01L622.64 856.01L623.6 857.61L624.56 864.01L625.6 860.01L626.64 864.01L627.44 891.61L628.4 880.01L629.36 845.21L630.4 891.21L631.44 841.21L632.4 848.01L633.6 850.41L634.64 856.01L635.6 891.61L636.56 857.61L637.6 868.01L638.64 870.41L639.6 891.21L640.56 862.41L641.6 859.21L642.64 883.21L643.44 846.01L644.4 864.01L645.36 840.01L646.4 820.01L647.44 860.01L648.4 886.41L649.36 856.01L650.64 850.41L651.6 864.01L652.56 880.01L653.36 886.41L654.4 844.81L655.6 850.41L656.56 864.01L657.6 881.61L658.4 870.01L659.44 884.01L660.4 887.21L661.36 859.21L662.4 841.21L663.44 886.41L664.4 857.21L665.6 872.01L666.64 891.21L667.44 888.01L668.56 878.41L669.6 877.61L670.64 868.01L671.6 856.01L672.8 864.01L674 868.01L674.96 880.01L676 886.41L677.36 848.01L678.64 864.01L679.6 880.01L680.56 881.61L681.6 892.01L682.96 892.01L683.6 872.01L684.56 860.01L685.6 872.01L686.4 840.81L687.6 860.01L688.56 866.41L689.36 860.81L690.4 886.41L691.44 880.01L692.4 852.81L693.36 864.01L694.4 856.01L695.44 837.61L696.56 880.01L697.6 888.01L698.4 869.21L699.44 876.01L700.56 886.41L701.6 866.81L702.64 868.01L703.6 891.61L704.56 875.21L705.6 880.01L706.64 865.61L707.76 872.01L708.8 880.01L709.84 876.01L710.8 849.21L712 848.41L713.2 862.41L714.4 860.01L715.44 880.01L716.4 887.21L717.36 876.01L718.4 868.01L719.44 840.01L720.4 837.61L721.36 889.61L722.4 849.61L723.44 888.01L724.4 834.01L725.6 856.01L726.4 886.41L727.44 859.21L728.4 864.01L729.6 848.01L730.64 872.01L731.6 868.01L732.56 836.01L733.6 856.01L734.4 840.01L735.44 832.01L736.56 849.61L737.36 833.61L738.4 856.01L739.36 828.81L740.08 703.21L740.88 828.81L742 857.61L742.96 864.01L743.76 887.21L744.8 864.01L745.6 853.61L746.64 852.81L747.6 872.01L748.56 848.01L749.6 884.81L750.64 856.01L751.44 821.61L752.56 860.01L753.6 868.01L754.64 880.01L755.44 846.41L756.4 844.81L757.36 824.01L758.4 821.21L759.44 856.01L760.4 872.01L761.6 878.41L762.8 881.61L764 886.41L765.36 844.81L766.4 876.01L767.44 884.81L768.4 890.81L769.36 848.81L770.4 849.61L771.44 880.01L772.4 851.21L773.36 864.01L774.4 880.01L775.44 856.01L776.4 872.01L777.44 880.01L778.4 865.61L779.44 883.21L780.4 864.01L781.36 861.21L782.4 880.01L783.44 888.01L784.56 891.61L785.6 891.61L786.4 871.21L787.44 880.01L788.4 883.21L789.36 892.01L790.4 888.01L791.6 860.81L792.56 852.01L793.6 856.01L794.64 848.01L795.6 872.01L796.56 878.41L797.6 884.81L798.4 843.21L799.44 867.21L800.4 872.01L801.36 886.41L802.4 856.01L803.44 848.01L804.4 876.01L805.36 858.41L806.4 872.01L807.44 836.81L808.4 841.61L809.6 846.41L810.64 856.01L811.6 856.81L812.56 872.01L813.6 864.01L814.4 891.61L815.44 862.41L816.56 864.01L817.6 853.61L818.64 852.01L819.6 864.01L820.56 880.01L821.6 865.61L822.4 860.81L823.44 890.41L824.4 872.01L825.36 852.81L826.4 874.41L827.44 880.01L828.4 883.21L829.36 872.01L830.4 885.61L831.44 878.41L832.4 884.01L833.6 872.81L834.64 877.61L835.6 880.01L836.56 872.01L837.36 848.01L838.4 866.41L839.44 860.81L840.4 872.01L841.36 840.41L842.4 864.01L843.44 868.01L844.4 843.61L845.36 876.81L846.4 840.01L847.44 868.01L848.56 872.01L849.6 876.01L850.64 880.01L851.6 876.01L852.56 868.81L853.6 856.01L854.64 854.41L855.6 848.01L856.8 864.01L857.6 860.81L858.64 824.01L859.6 824.81L860.56 864.01L861.6 880.01L862.4 808.41L863.6 864.01L864.56 878.41L865.6 864.01L866.64 881.61L867.6 880.01L868.56 880.81L869.36 851.21L870.4 880.81L871.44 872.01L872.4 884.01L873.36 891.61L874.4 845.61L875.44 880.01L876.4 809.61L877.36 840.01L878.4 824.81L879.44 886.41L880.4 846.41L881.6 864.01L882.4 883.21L883.44 853.61L884.4 872.01L885.36 864.01L886.4 868.01L887.44 883.21L888.4 867.21L889.44 874.41L890.4 878.41L891.44 872.01L892.4 880.01L893.36 848.01L894.4 846.41L895.44 872.01L896.4 852.81L897.6 881.61L898.64 856.01L899.6 835.21L900.56 836.01L901.6 864.01L902.64 888.01L903.6 889.61L904.56 872.01L905.6 888.01L906.64 854.41L907.6 860.81L908.56 880.01L909.6 860.01L910.4 880.01L911.44 872.01L912.4 832.01L913.6 856.01L914.4 882.41L915.44 864.01L916.4 856.01L917.36 837.61L918.4 868.81L919.44 872.01L920.4 891.61L921.36 880.01L922.4 868.81L923.44 876.01L924.56 881.61L925.6 864.01L926.4 848.01L927.44 864.01L928.4 840.01L929.6 827.21L930.64 856.01L931.6 860.81L932.56 866.41L933.36 819.61L934.4 864.01L935.44 884.81L936.4 888.01L937.6 891.21L938.4 872.01L939.44 853.61L940.56 880.01L941.6 892.01L942.4 874.41L943.44 884.01L944.56 890.81L945.6 872.01L946.64 854.41L947.6 886.41L948.4 850.41L949.36 884.01L950.4 859.21L951.44 868.01L952.56 889.61L953.6 872.01L954.64 864.01L955.44 860.01L956.4 859.21L957.36 883.21L958.4 872.01L959.44 875.21L960.4 856.01L961.36 839.21L962.4 838.41L963.44 864.01L964.4 884.01L965.36 856.01L966.4 832.01L967.44 853.61L968.56 864.01L969.6 878.41L970.64 867.21L971.6 881.61L972.56 864.01L973.6 860.01L974.4 843.21L975.44 852.01L976.4 860.81L977.6 824.01L978.64 817.61L979.6 816.01L980.4 787.21L981.36 840.01L982.4 891.21L983.44 872.01L984.4 830.41L985.6 824.01L986.4 795.21L987.44 840.01L988.4 825.61L989.36 848.01L990.4 856.01L991.44 844.81L992.4 840.01L993.6 864.01L994.64 884.81L995.6 872.01L996.4 868.01L997.36 840.01L998.4 828.01L999.44 880.01L1000.4 872.01L1001.44 874.41L1002.64 888.81L1003.6 880.01L1004.56 870.41L1005.6 853.61L1006.4 872.01L1007.44 856.01L1008.4 856.01L1009.36 848.01L1010.4 857.61L1011.44 862.41L1012.4 870.41L1013.36 883.21L1014.4 866.41L1015.44 880.01L1016.4 872.01L1017.36 864.01L1018.4 880.81L1019.44 864.01L1020.56 864.81L1021.6 872.01L1022.64 832.01L1023.6 840.01L1024.4 872.01L1025.36 883.21L1026.4 872.01L1027.44 865.61L1028.4 878.41L1029.36 872.01L1030.4 858.01L1031.44 870.41L1032.4 886.41L1033.36 868.01L1034.4 864.01L1035.44 891.61L1036.4 878.41L1037.36 887.21L1038.4 872.01L1039.44 852.81L1040.56 836.81L1041.6 864.01L1042.64 876.01L1043.6 860.41L1044.56 864.01L1045.6 884.01L1046.4 892.01L1047.44 892.01L1048.4 868.01L1049.6 870.41L1050.64 857.61L1051.6 856.01L1052.4 883.21L1053.36 840.01L1054.4 872.01L1055.44 891.21L1056.4 881.21L1057.36 881.61L1058.4 888.81L1059.44 884.01L1060.4 872.01L1061.36 888.81L1062.64 856.01L1063.6 860.81L1064.56 864.01L1065.6 880.01L1066.4 858.41L1067.44 864.01L1068.4 878.41L1069.6 865.61L1070.64 840.01L1071.44 820.81L1072.56 864.01L1073.6 888.01L1074.4 892.01L1075.2 891.21L1076 832.01L1077.04 816.01L1077.84 864.01L1078.64 887.21L1079.6 864.01L1080.56 839.21L1081.6 864.01L1082.64 882.41L1083.44 867.61L1084.4 875.21L1085.36 868.81L1086.4 876.01L1087.44 880.01L1088.56 890.81L1089.6 872.01L1090.64 851.21L1091.6 872.01L1092.4 852.01L1093.36 880.01L1094.4 840.01L1095.44 872.01L1096.56 886.41L1097.6 872.01L1098.64 861.21L1099.6 879.21L1100.4 842.41L1101.6 880.01L1102.4 876.01L1103.44 884.81L1104.4 870.01L1105.6 876.81L1106.64 884.01L1107.6 878.41L1108.56 884.81L1109.6 891.61L1110.64 856.01L1111.44 840.41L1112.24 891.61L1113.2 891.61L1114.4 864.81L1115.44 866.41L1116.4 880.01L1117.36 868.01L1118.4 856.01L1119.44 886.41L1120.56 856.01L1121.44 838.41L1122.64 864.01L1123.6 848.01L1124.56 888.01L1125.6 870.41L1126.56 872.01L1127 892.01Z" fill="#E67300"/>
<line x1="95.5" x2="95.5" y1="695.05" y2="901.45" stroke="#000" stroke-width="3"/>
<line x1="87.9" x2="94.5" y1="892.01" y2="892.01" stroke="#333" stroke-width="3"/>
<text x="80.9" y="900.36" font-size="23.9" fill="#4D4D4D" text-anchor="end">0</text>
<line x1="87.9" x2="94.5" y1="842.01" y2="842.01" stroke="#333" stroke-width="3"/>
<text x="80.9" y="850.36" font-size="23.9" fill="#4D4D4D" text-anchor="end">2</text>
<line x1="87.9" x2="94.5" y1="792.01" y2="792.01" stroke="#333" stroke-width="3"/>
<text x="80.9" y="800.36" font-size="23.9" fill="#4D4D4D" text-anchor="end">4</text>
<line x1="87.9" x2="94.5" y1="742.01" y2="742.01" stroke="#333" stroke-width="3"/>
<text x="80.9" y="750.36" font-size="23.9" fill="#4D4D4D" text-anchor="end">6</text>
<text x="144.2" y="807.65" font-size="24.1" fill="#1A1A1A" text-anchor="middle" letter-spacing="0.2">E17_2</text>
</g>
<g id="panel-Input">
<path d="M239 1113.56L239 1113.56L239.44 1064.41L240.4 1071.61L241.36 1090.81L242.4 1094.01L243.44 1103.61L244.4 1098.01L245.6 1075.61L246.64 1086.81L247.6 1089.21L248.8 1090.81L249.84 1092.41L250.8 1100.41L251.6 1104.41L252.4 1074.01L253.36 1079.61L254.4 1097.21L255.44 1087.61L256.4 1096.41L257.6 1078.81L258.64 1098.81L259.6 1094.01L260.56 1089.21L261.44 1080.41L262.4 1087.61L263.44 1078.01L264.4 1040.01L265.6 1070.01L266.64 1058.01L267.6 1089.21L268.56 1093.21L269.6 1081.21L270.4 1047.61L271.44 1067.61L272.4 1058.01L273.6 1084.41L274.64 1070.01L275.6 1084.41L276.56 1087.61L277.6 1100.41L278.4 1064.41L279.44 1082.01L280.4 1068.41L281.36 1061.21L282.4 1080.41L283.44 1094.01L284.4 1103.61L285.36 1086.81L286.4 1081.21L287.44 1080.41L288.4 1050.01L289.36 1044.81L290.4 1092.41L291.44 1078.01L292.4 1095.61L293.36 1081.61L294.4 1087.61L295.44 1088.41L296.4 1073.21L297.6 1086.01L298.64 1086.81L299.44 1078.81L300.4 1097.21L301.6 1084.41L302.4 1078.01L303.44 1067.21L304.56 1085.21L305.6 1086.01L306.64 1092.41L307.44 1083.61L308.4 1108.41L309.36 1104.41L310.4 1071.61L311.44 1046.41L312.56 1090.01L313.6 1093.21L314.4 1060.41L315.44 1081.21L316.4 1084.41L317.36 1088.41L318.4 1093.21L319.44 1093.61L320.4 1098.01L321.6 1103.61L322.4 1078.01L323.44 1057.21L324.4 1081.21L325.36 1089.21L326.4 1093.21L327.44 1078.81L328.4 1082.81L329.44 1103.61L330.4 1086.01L331.44 1073.21L332.4 1082.81L333.36 1083.61L334.4 1106.01L335.44 1096.41L336.4 1100.41L337.36 1090.01L338.4 1079.61L339.44 1075.61L340.4 1086.01L341.36 1068.01L342.4 1103.61L343.44 1094.01L344.4 1086.01L345.36 1082.01L346.4 1070.01L347.44 1089.21L348.56 1080.41L349.6 1086.01L350.4 1076.41L351.44 1065.61L352.4 1093.21L353.6 1090.01L354.4 1057.21L355.44 1087.61L356.4 1086.01L357.6 1043.61L358.4 1065.21L359.44 1044.01L360.4 1078.01L361.36 1079.61L362.4 1094.01L363.44 1067.61L364.56 1079.61L365.6 1098.81L366.4 1078.01L367.44 1058.81L368.56 1100.41L369.6 1089.21L370.64 1094.01L371.76 1050.81L373.2 1094.01L374.4 1086.81L375.6 1104.41L376.56 1073.21L377.6 1070.01L378.64 1074.01L379.6 1070.01L380.56 1086.01L381.6 1103.61L382.64 1096.41L383.6 1097.21L384.56 1062.01L385.6 1054.81L386.64 1081.21L387.6 1078.01L388.4 1052.41L389.6 1071.61L390.64 1078.01L391.44 1088.41L392.4 1064.81L393.6 1079.61L394.64 1090.81L395.6 1096.41L396.56 1089.21L397.6 1094.01L398.64 1086.01L399.6 1082.01L400.56 1086.01L401.6 1099.61L402.64 1090.01L403.44 1088.01L404.4 1103.61L405.36 1086.01L406.4 1082.81L407.44 1067.61L408.4 1067.61L409.6 1078.01L410.64 1082.01L411.44 1094.81L412.4 1060.41L413.36 1056.01L414.4 1082.01L415.44 1086.01L416.56 1094.01L417.6 1090.01L418.4 1069.21L419.44 1107.61L420.4 1102.01L421.36 1074.81L422.4 1082.01L423.44 1084.41L424.4 1067.61L425.6 1078.01L426.64 1100.41L427.44 1103.61L428.4 1094.01L429.36 1072.41L430.4 1098.01L431.44 1102.81L432.4 1075.61L433.36 1085.21L434.4 1076.41L435.76 1039.61L436.8 1078.01L437.84 1086.01L438.8 1088.41L439.76 1089.21L440.56 1080.41L441.44 1103.61L442.4 1073.21L443.44 1074.01L444.4 1056.01L445.6 1070.01L446.64 1090.81L447.44 1083.61L448.4 1094.01L449.44 1048.01L450.4 1094.01L451.44 1081.21L452.4 1077.21L453.36 1092.41L454.4 1101.21L455.44 1086.01L456.4 1088.41L457.36 1091.61L458.16 1113.56L459.2 1113.56L460.56 1094.81L461.6 1106.01L462.8 1113.56L463.6 1095.61L464.56 1092.41L465.36 1080.01L466.4 1108.41L467.44 1101.21L468.4 1104.41L469.36 1094.81L470.4 1095.61L471.44 1106.01L472.4 1086.81L473.6 1096.41L474.64 1106.01L475.44 1111.61L476.4 1088.41L477.36 1082.81L478.4 1103.61L479.44 1088.41L480.56 1076.41L481.6 1068.01L482.64 1072.41L483.44 1066.01L484.4 1095.61L485.36 1096.41L486.4 1097.21L487.44 1102.81L488.4 1112.81L489.6 1098.01L490.4 1091.21L491.6 1096.41L492.56 1108.41L493.6 1101.21L494.64 1109.21L495.6 1112.81L496.4 1070.81L497.36 1069.61L498.4 1094.01L499.44 1110.01L500.4 1099.61L501.36 1090.01L502.4 1087.61L503.44 1082.81L504.4 1056.01L505.6 1106.01L506.64 1075.61L507.6 1094.01L508.4 1076.41L509.36 1069.21L510.4 1079.61L511.44 1103.61L512.4 1096.41L513.36 1102.01L514.4 1098.81L515.44 1096.41L516.4 1090.01L517.36 1066.81L518.4 1078.01L519.44 1098.81L520.4 1074.81L521.6 1082.81L522.64 1070.01L523.44 1053.61L524.4 1096.41L525.36 1108.41L526.4 1090.41L527.6 1109.21L528.56 1098.01L529.6 1086.01L530.64 1088.41L531.44 1084.41L532.4 1098.81L533.36 1079.21L534.4 1078.01L535.44 1062.41L536.56 1086.01L537.6 1092.41L538.64 1100.41L539.44 1094.01L540.4 1101.21L541.6 1102.01L542.4 1034.41L543.44 1078.01L544.4 1087.61L545.36 1057.21L546.4 1077.21L547.2 1078.01L548.4 1100.41L549.36 1082.01L550.4 1069.21L551.44 1086.01L552.4 1082.81L553.44 1100.41L554.4 1062.01L555.44 1094.01L556.4 1062.01L557.36 1062.01L558.4 1070.01L559.44 1082.81L560.4 1102.01L561.36 1089.21L562.4 1106.81L563.44 1072.81L564.4 1094.01L565.36 1083.21L566.4 1090.81L567.44 1064.01L568.56 1094.01L569.6 1104.41L570.64 1075.61L571.6 1074.01L572.56 1090.81L573.6 1078.01L574.4 1086.01L575.44 1098.01L576.4 1086.01L577.36 1076.01L578.4 1082.01L579.44 1082.01L580.4 1086.01L581.36 1064.81L582.4 1096.41L583.44 1069.61L584.4 1074.01L585.36 1094.01L586 1104.01L586.8 1102.01L587.44 1074.81L588.4 1086.81L589.6 1090.01L590.64 1098.01L591.44 1083.61L592.56 1086.81L593.6 1102.01L594.64 1086.01L595.6 1066.01L596.56 1048.01L597.6 1074.01L598.64 1071.61L599.6 1075.61L600.56 1078.01L601.36 1064.41L602.4 1086.01L603.44 1089.21L604.4 1092.41L605.36 1097.21L606.4 1094.81L607.44 1100.41L608.4 1078.01L609.2 1071.21L610.4 1098.01L611.44 1102.81L612.4 1078.01L613.36 1070.01L614.4 1102.01L615.44 1094.01L616.4 1097.21L617.6 1086.01L618.4 1066.01L619.44 1081.21L620.4 1085.21L621.6 1093.21L622.4 1074.41L623.44 1090.01L624.56 1098.01L625.6 1078.01L626.4 1048.01L627.44 1090.81L628.4 1087.61L629.36 1081.21L630.64 1085.21L631.6 1107.61L632.56 1086.01L633.6 1074.01L634.64 1067.61L635.44 1058.81L636.56 1106.01L637.6 1094.01L638.4 1074.01L639.44 1113.21L640.4 1087.61L641.36 1104.41L642.4 1096.41L643.44 1092.41L644.4 1088.41L645.36 1108.41L646.4 1096.41L647.44 1106.81L648.4 1094.01L649.36 1084.41L650.4 1094.01L651.44 1092.41L652.4 1103.61L653.36 1086.01L654.4 1074.81L655.44 1090.01L656.4 1090.81L657.6 1086.01L658.8 1071.61L660 1086.01L661.36 1067.61L662.4 1097.21L663.44 1110.01L664.4 1094.01L665.44 1070.01L666.4 1060.41L667.44 1042.41L668.4 1070.01L669.36 1080.41L670.4 1084.41L671.44 1094.01L672.4 1087.61L673.36 1090.01L674.4 1089.21L675.44 1098.01L676.4 1106.01L677.36 1044.41L678.4 1096.41L679.44 1070.81L680.4 1100.41L681.6 1105.21L682.4 1094.01L683.44 1103.61L684.4 1094.01L685.6 1083.61L686.4 1079.61L687.44 1052.41L688.4 1070.01L689.36 1082.01L690.4 1066.01L691.44 1079.61L692.4 1078.81L693.36 1094.01L694.64 1106.81L695.6 1082.01L696.4 1069.61L697.36 1086.01L698.4 1106.81L699.44 1086.01L700.4 1058.81L701.36 1058.01L702.4 1082.01L703.44 1094.01L704.56 1075.61L705.6 1074.01L706.64 1068.41L707.6 1056.41L708.56 1070.01L709.6 1094.01L710.4 1106.01L711.6 1090.01L712.56 1092.41L713.6 1075.61L714.64 1098.01L715.6 1092.41L716.8 1076.01L717.6 1086.01L718.64 1102.01L719.6 1087.61L720.56 1090.01L721.6 1062.01L722.64 1094.01L723.6 1110.01L724.56 1102.01L725.36 1060.81L726.4 1098.01L727.44 1102.01L728.4 1106.01L729.6 1102.01L730.4 1101.21L731.44 1088.81L732.4 1095.61L733.36 1107.61L734.4 1102.01L735.44 1101.21L736.4 1078.01L737.6 1066.01L738.64 1102.01L739.68 1094.01L740.4 995.61L741.12 1094.01L742.4 1076.41L743.44 1107.61L744.56 1090.01L745.6 1086.01L746.56 1066.41L747.6 1086.81L748.56 1078.01L749.6 1083.61L750.64 1091.61L751.44 1057.21L752.56 1082.81L753.6 1086.01L754.64 1105.21L755.6 1077.21L756.56 1086.01L757.6 1078.01L758.64 1071.61L759.6 1069.21L760.56 1078.01L761.6 1089.21L762.4 1062.01L763.44 1092.41L764.4 1090.01L765.2 1073.21L766.4 1095.61L767.44 1076.41L768.4 1086.01L769.36 1058.01L770.4 1072.41L771.44 1058.81L772.4 1072.41L773.36 1074.81L774.4 1078.01L775.6 1090.01L776.56 1079.61L777.44 1070.01L778.4 1082.01L779.44 1084.41L780.4 1073.21L781.36 1104.41L782.4 1086.81L783.44 1074.01L784.4 1078.01L785.36 1073.61L786.4 1078.01L787.44 1072.41L788.4 1067.61L789.36 1103.61L790.4 1090.01L791.44 1066.01L792.4 1096.41L793.6 1082.81L794.4 1074.41L795.6 1082.01L796.56 1086.01L797.6 1103.61L798.4 1085.21L799.44 1086.01L800.4 1097.21L801.36 1078.01L802.4 1058.81L803.44 1074.81L804.4 1070.01L805.36 1078.01L806.4 1072.41L807.44 1088.41L808.4 1090.01L809.44 1063.61L810.4 1082.01L811.44 1086.01L812.4 1080.41L813.36 1103.61L814.4 1106.81L815.44 1100.41L816.4 1086.81L817.6 1094.81L818.64 1092.41L819.44 1067.61L820.4 1103.61L821.44 1062.01L822.64 1090.01L823.6 1092.41L824.56 1096.41L825.6 1086.01L826.4 1070.01L827.44 1078.01L828.4 1074.81L829.36 1106.01L830.4 1079.61L831.44 1083.61L832.4 1102.01L833.6 1061.21L834.64 1090.01L835.6 1089.21L836.4 1080.41L837.36 1094.81L838.4 1094.01L839.44 1056.41L840.4 1078.01L841.36 1044.41L842.4 1086.01L843.44 1082.81L844.4 1066.81L845.36 1089.21L846.4 1089.21L847.44 1065.21L848.56 1094.01L849.6 1101.21L850.4 1088.41L851.44 1098.81L852.4 1086.01L853.36 1074.01L854.4 1066.81L855.44 1079.61L856.56 1078.81L857.6 1094.01L858.64 1098.01L859.44 1075.21L860.4 1081.21L861.36 1082.81L862.4 1094.01L863.44 1052.81L864.56 1092.41L865.6 1084.81L866.64 1094.01L867.6 1109.21L868.4 1056.01L869.36 1078.01L870.4 1082.01L871.44 1080.41L872.4 1101.21L873.36 1078.01L874.4 1066.01L875.44 1034.81L876.4 1076.41L877.36 1078.01L878.4 1083.61L879.44 1082.81L880.4 1067.61L881.36 1082.81L882.4 1074.01L883.44 1088.41L884.4 1078.01L885.36 1048.01L886.4 1105.21L887.44 1094.01L888.4 1061.21L889.44 1058.81L890.4 1089.21L891.44 1073.21L892.4 1058.81L893.36 1086.81L894.4 1087.61L895.44 1090.81L896.4 1082.01L897.44 1061.21L898.4 1075.61L899.44 1081.21L900.4 1058.01L901.36 1050.41L902.4 1094.01L903.44 1102.81L904.4 1075.61L905.36 1074.01L906.4 1086.01L907.44 1092.41L908.4 1094.01L909.6 1078.01L910.4 1054.01L911.44 1086.01L912.4 1033.21L913.6 1094.01L914.4 1095.61L915.44 1075.61L916.4 1094.01L917.36 1080.41L918.4 1086.01L919.44 1081.21L920.4 1112.41L921.44 1072.81L922.4 1098.01L923.44 1086.01L924.4 1079.61L925.36 1088.41L926.4 1095.61L927.44 1092.41L928.56 1062.81L929.6 1069.21L930.64 1089.21L931.6 1073.21L932.8 1072.41L933.84 1081.21L934.8 1086.01L935.6 1094.01L936.56 1104.41L937.6 1086.01L938.64 1072.41L939.6 1086.01L940.56 1087.61L941.6 1102.01L942.4 1108.41L943.44 1070.01L944.56 1059.21L945.6 1068.41L946.4 1100.41L947.44 1088.41L948.4 1098.81L949.36 1073.21L950.4 1082.81L951.44 1094.01L952.4 1107.61L953.6 1090.81L954.64 1100.41L955.6 1086.81L956.56 1098.01L957.6 1070.01L958.4 1040.41L959.44 1070.01L960.4 1082.01L961.36 1066.81L962.4 1082.81L963.44 1086.01L964.4 1103.61L965.36 1078.01L966.4 1048.01L967.44 1070.01L968.4 1090.01L969.36 1047.61L970.4 1086.01L971.44 1106.81L972.4 1094.01L973.36 1082.01L974.4 1066.41L975.44 1070.01L976.56 1096.41L977.6 1058.01L978.4 1024.01L979.44 1041.21L980.4 1024.01L981.36 1060.41L982.4 1060.41L983.44 1086.01L984.4 1092.41L985.36 1082.81L986.4 1066.01L987.44 1078.01L988.4 1073.21L989.36 1088.41L990.4 1078.01L991.44 1042.41L992.4 1062.01L993.36 1086.01L994.4 1103.61L995.44 1086.01L996.56 1062.01L997.36 1074.81L998.4 1053.61L999.44 1068.41L1000.4 1068.41L1001.44 1086.01L1002.4 1094.81L1003.44 1094.81L1004.4 1083.61L1005.36 1094.01L1006.4 1069.21L1007.44 1086.01L1008.4 1082.81L1009.44 1060.41L1010.4 1070.01L1011.44 1074.81L1012.4 1086.01L1013.36 1098.81L1014.4 1077.21L1015.44 1100.41L1016.4 1090.01L1017.6 1088.41L1018.4 1088.41L1019.44 1075.61L1020.4 1094.01L1021.6 1098.01L1022.4 1082.01L1023.44 1096.41L1024.4 1076.41L1025.36 1086.01L1026.4 1070.81L1027.44 1085.21L1028.4 1069.21L1029.36 1094.01L1030.4 1086.81L1031.44 1098.01L1032.4 1103.61L1033.44 1064.41L1034.4 1078.01L1035.44 1088.41L1036.4 1074.41L1037.36 1086.01L1038.4 1100.41L1039.44 1064.81L1040.56 1094.01L1041.6 1101.21L1042.96 1107.61L1044.4 1057.21L1045.36 1072.41L1046.4 1100.41L1047.44 1092.41L1048.4 1093.21L1049.6 1062.01L1050.4 1057.21L1051.44 1100.41L1052.4 1078.01L1053.36 1054.81L1054.4 1057.21L1055.44 1078.01L1056.56 1078.01L1057.6 1098.01L1058.64 1103.61L1059.6 1103.61L1060.56 1078.01L1061.36 1072.41L1062.4 1061.21L1063.44 1086.01L1064.4 1080.41L1065.6 1094.01L1066.4 1064.01L1067.44 1074.01L1068.56 1078.01L1069.6 1098.01L1070.4 1106.81L1071.44 1088.41L1072.4 1109.21L1073.6 1085.21L1074.64 1094.01L1075.44 1106.01L1076.4 1102.01L1077.36 1069.61L1078.4 1106.01L1079.44 1094.01L1080.4 1084.41L1081.36 1082.01L1082.4 1070.01L1083.44 1056.41L1084.4 1090.81L1085.6 1078.01L1086.4 1066.81L1087.44 1102.81L1088.56 1082.01L1089.6 1074.81L1090.64 1089.21L1091.44 1080.41L1092.4 1095.61L1093.36 1086.01L1094.4 1079.61L1095.44 1068.41L1096.4 1064.41L1097.6 1062.81L1098.64 1083.61L1099.44 1082.81L1100.4 1063.61L1101.36 1081.21L1102.4 1062.41L1103.44 1081.21L1104.4 1090.01L1105.6 1098.81L1106.64 1098.01L1107.44 1070.01L1108.4 1107.61L1109.36 1078.01L1110.4 1061.21L1111.44 1086.01L1112.4 1044.41L1113.44 1081.21L1114.4 1084.41L1115.44 1089.21L1116.4 1094.01L1117.36 1086.81L1118.4 1078.01L1119.44 1087.61L1120.4 1080.41L1121.44 1077.21L1122.4 1098.81L1123.44 1080.01L1124.56 1078.81L1125.6 1096.41L1126.16 1098.81L1127 1113.56Z" fill="#000000"/>
<line x1="95.5" x2="95.5" y1="916.6" y2="1123" stroke="#000" stroke-width="3"/>
<line x1="87.9" x2="94.5" y1="1113.56" y2="1113.56" stroke="#333" stroke-width="3"/>
<text x="80.9" y="1121.91" font-size="23.9" fill="#4D4D4D" text-anchor="end">0</text>
<line x1="87.9" x2="94.5" y1="1063.56" y2="1063.56" stroke="#333" stroke-width="3"/>
<text x="80.9" y="1071.91" font-size="23.9" fill="#4D4D4D" text-anchor="end">2</text>
<line x1="87.9" x2="94.5" y1="1013.56" y2="1013.56" stroke="#333" stroke-width="3"/>
<text x="80.9" y="1021.91" font-size="23.9" fill="#4D4D4D" text-anchor="end">4</text>
<line x1="87.9" x2="94.5" y1="963.56" y2="963.56" stroke="#333" stroke-width="3"/>
<text x="80.9" y="971.91" font-size="23.9" fill="#4D4D4D" text-anchor="end">6</text>
<text x="144.2" y="1029.2" font-size="24.1" fill="#1A1A1A" text-anchor="middle" letter-spacing="0.2">Input</text>
</g>
<text transform="translate(52.1 576.7) rotate(-90)" font-size="30.1" fill="#000" text-anchor="middle" letter-spacing="0.15">bigWig</text>
<g id="genes">
<line x1="95.5" x2="95.5" y1="1160.7" y2="1297.5" stroke="#000" stroke-width="3"/>
<text transform="translate(52.1 1229.2) rotate(-90)" font-size="30.1" fill="#000" text-anchor="middle" letter-spacing="0.15">Genes</text>
<line x1="243.4" x2="1127.5" y1="1200.2" y2="1200.2" stroke="#00008B" stroke-width="2.9"/>
<path d="M241 1194.7L246 1200.2L241 1205.7M258.75 1194.7L263.75 1200.2L258.75 1205.7M276.51 1194.7L281.51 1200.2L276.51 1205.7M294.26 1194.7L299.26 1200.2L294.26 1205.7M312.02 1194.7L317.02 1200.2L312.02 1205.7M329.77 1194.7L334.77 1200.2L329.77 1205.7M347.53 1194.7L352.53 1200.2L347.53 1205.7M365.28 1194.7L370.28 1200.2L365.28 1205.7M383.04 1194.7L388.04 1200.2L383.04 1205.7M400.79 1194.7L405.79 1200.2L400.79 1205.7M418.55 1194.7L423.55 1200.2L418.55 1205.7M436.3 1194.7L441.3 1200.2L436.3 1205.7M454.06 1194.7L459.06 1200.2L454.06 1205.7M471.81 1194.7L476.81 1200.2L471.81 1205.7M489.57 1194.7L494.57 1200.2L489.57 1205.7M507.33 1194.7L512.33 1200.2L507.33 1205.7M525.08 1194.7L530.08 1200.2L525.08 1205.7M542.84 1194.7L547.84 1200.2L542.84 1205.7M560.59 1194.7L565.59 1200.2L560.59 1205.7M578.35 1194.7L583.35 1200.2L578.35 1205.7M596.1 1194.7L601.1 1200.2L596.1 1205.7M613.86 1194.7L618.86 1200.2L613.86 1205.7M631.61 1194.7L636.61 1200.2L631.61 1205.7M649.37 1194.7L654.37 1200.2L649.37 1205.7M667.12 1194.7L672.12 1200.2L667.12 1205.7M684.88 1194.7L689.88 1200.2L684.88 1205.7M702.63 1194.7L707.63 1200.2L702.63 1205.7M720.38 1194.7L725.38 1200.2L720.38 1205.7M738.14 1194.7L743.14 1200.2L738.14 1205.7M755.89 1194.7L760.89 1200.2L755.89 1205.7M773.65 1194.7L778.65 1200.2L773.65 1205.7M791.4 1194.7L796.4 1200.2L791.4 1205.7M809.16 1194.7L814.16 1200.2L809.16 1205.7M826.91 1194.7L831.91 1200.2L826.91 1205.7M844.67 1194.7L849.67 1200.2L844.67 1205.7M862.42 1194.7L867.42 1200.2L862.42 1205.7M880.18 1194.7L885.18 1200.2L880.18 1205.7M897.93 1194.7L902.93 1200.2L897.93 1205.7M915.69 1194.7L920.69 1200.2L915.69 1205.7M933.44 1194.7L938.44 1200.2L933.44 1205.7M951.2 1194.7L956.2 1200.2L951.2 1205.7M968.95 1194.7L973.95 1200.2L968.95 1205.7M986.71 1194.7L991.71 1200.2L986.71 1205.7M1004.46 1194.7L1009.46 1200.2L1004.46 1205.7M1022.22 1194.7L1027.22 1200.2L1022.22 1205.7M1039.97 1194.7L1044.97 1200.2L1039.97 1205.7M1057.73 1194.7L1062.73 1200.2L1057.73 1205.7M1075.48 1194.7L1080.48 1200.2L1075.48 1205.7M1093.24 1194.7L1098.24 1200.2L1093.24 1205.7M1110.99 1194.7L1115.99 1200.2L1110.99 1205.7" fill="none" stroke="#00008B" stroke-width="2.9" stroke-linejoin="miter"/>
<rect x="280.7" y="1191.4" width="10.1" height="17.6" fill="#00008B"/>
<rect x="774.3" y="1191.4" width="8.6" height="17.6" fill="#00008B"/>
<rect x="937.1" y="1191.4" width="14.3" height="17.6" fill="#00008B"/>
<rect x="1116.1" y="1191.4" width="10.8" height="17.6" fill="#00008B"/>
<rect x="246.25" y="1191.4" width="0.9" height="17.6" fill="#00008B"/>
<rect x="248.1" y="1191.4" width="0.8" height="17.6" fill="#00008B"/>
<rect x="273.25" y="1191.4" width="0.5" height="17.6" fill="#00008B"/>
<rect x="659.4" y="1191.4" width="1.2" height="17.6" fill="#00008B"/>
<rect x="672.2" y="1191.4" width="0.8" height="17.6" fill="#00008B"/>
<rect x="765.5" y="1191.4" width="0.4" height="17.6" fill="#00008B"/>
<rect x="857" y="1191.4" width="0.8" height="17.6" fill="#00008B"/>
<rect x="897.15" y="1191.4" width="1.7" height="17.6" fill="#00008B"/>
<rect x="981.7" y="1191.4" width="1.2" height="17.6" fill="#00008B"/>
<rect x="984.6" y="1191.4" width="1" height="17.6" fill="#00008B"/>
<rect x="1027.4" y="1191.4" width="0.4" height="17.6" fill="#00008B"/>
<rect x="1044.2" y="1191.4" width="1" height="17.6" fill="#00008B"/>
<rect x="1092.3" y="1191.4" width="1.8" height="17.6" fill="#00008B"/>
<rect x="1100.9" y="1191.4" width="1.2" height="17.6" fill="#00008B"/>
<rect x="1104.2" y="1191.4" width="1.2" height="17.6" fill="#00008B"/>
<rect x="1107.2" y="1191.4" width="1" height="17.6" fill="#00008B"/>
<rect x="1110.1" y="1191.4" width="0.8" height="17.6" fill="#00008B"/>
<text x="686.7" y="1190.6" font-size="19" fill="#000" text-anchor="middle" letter-spacing="0.45">Me3</text>
<rect x="245" y="1274.4" width="4.2" height="17.6" fill="#006400"/>
<path d="M243.8 1283.2L250 1283.2M254.9 1277.9L249.6 1283.2L254.9 1288.5" fill="none" stroke="#006400" stroke-width="2.9"/>
<text x="194.4" y="1273.7" font-size="19" fill="#000" textLength="131.3" lengthAdjust="spacing">30065N10Rik</text>
</g>
<g id="xaxis">
<line x1="194.3" x2="1171" y1="1297.5" y2="1297.5" stroke="#000" stroke-width="3"/>
<line x1="316" x2="316" y1="1298.5" y2="1305.1" stroke="#333" stroke-width="3"/>
<text x="316.25" y="1329.1" font-size="23.6" fill="#4D4D4D" text-anchor="middle" letter-spacing="0.5">89650000</text>
<line x1="514.3" x2="514.3" y1="1298.5" y2="1305.1" stroke="#333" stroke-width="3"/>
<text x="514.55" y="1329.1" font-size="23.6" fill="#4D4D4D" text-anchor="middle" letter-spacing="0.5">89700000</text>
<line x1="712.6" x2="712.6" y1="1298.5" y2="1305.1" stroke="#333" stroke-width="3"/>
<text x="712.85" y="1329.1" font-size="23.6" fill="#4D4D4D" text-anchor="middle" letter-spacing="0.5">89750000</text>
<line x1="910.9" x2="910.9" y1="1298.5" y2="1305.1" stroke="#333" stroke-width="3"/>
<text x="911.15" y="1329.1" font-size="23.6" fill="#4D4D4D" text-anchor="middle" letter-spacing="0.5">89800000</text>
<line x1="1109.2" x2="1109.2" y1="1298.5" y2="1305.1" stroke="#333" stroke-width="3"/>
<text x="1109.45" y="1329.1" font-size="23.6" fill="#4D4D4D" text-anchor="middle" letter-spacing="0.5">89850000</text>
<text x="682.6" y="1363.8" font-size="30.1" fill="#000" text-anchor="middle" letter-spacing="0.17">chr7 position (bp)</text>
</g>
<g id="legend">
<text x="1217.2" y="460" font-size="30.1" fill="#000" letter-spacing="0.1">bw</text>
<rect x="1218.9" y="480.05" width="44.1" height="44.1" fill="#0019CC"/>
<text x="1280.3" y="510.9" font-size="24.1" fill="#000" letter-spacing="0.2">E14_1</text>
<rect x="1218.9" y="528.05" width="44.1" height="44.1" fill="#0019CC"/>
<text x="1280.3" y="558.9" font-size="24.1" fill="#000" letter-spacing="0.2">E14_2</text>
<rect x="1218.9" y="576.05" width="44.1" height="44.1" fill="#E67300"/>
<text x="1280.3" y="606.9" font-size="24.1" fill="#000" letter-spacing="0.2">E17_1</text>
<rect x="1218.9" y="624.05" width="44.1" height="44.1" fill="#E67300"/>
<text x="1280.3" y="654.9" font-size="24.1" fill="#000" letter-spacing="0.2">E17_2</text>
<rect x="1218.9" y="672.05" width="44.1" height="44.1" fill="#000000"/>
<text x="1280.3" y="702.9" font-size="24.1" fill="#000" letter-spacing="0.2">Input</text>
</g>
</svg></body></html>
